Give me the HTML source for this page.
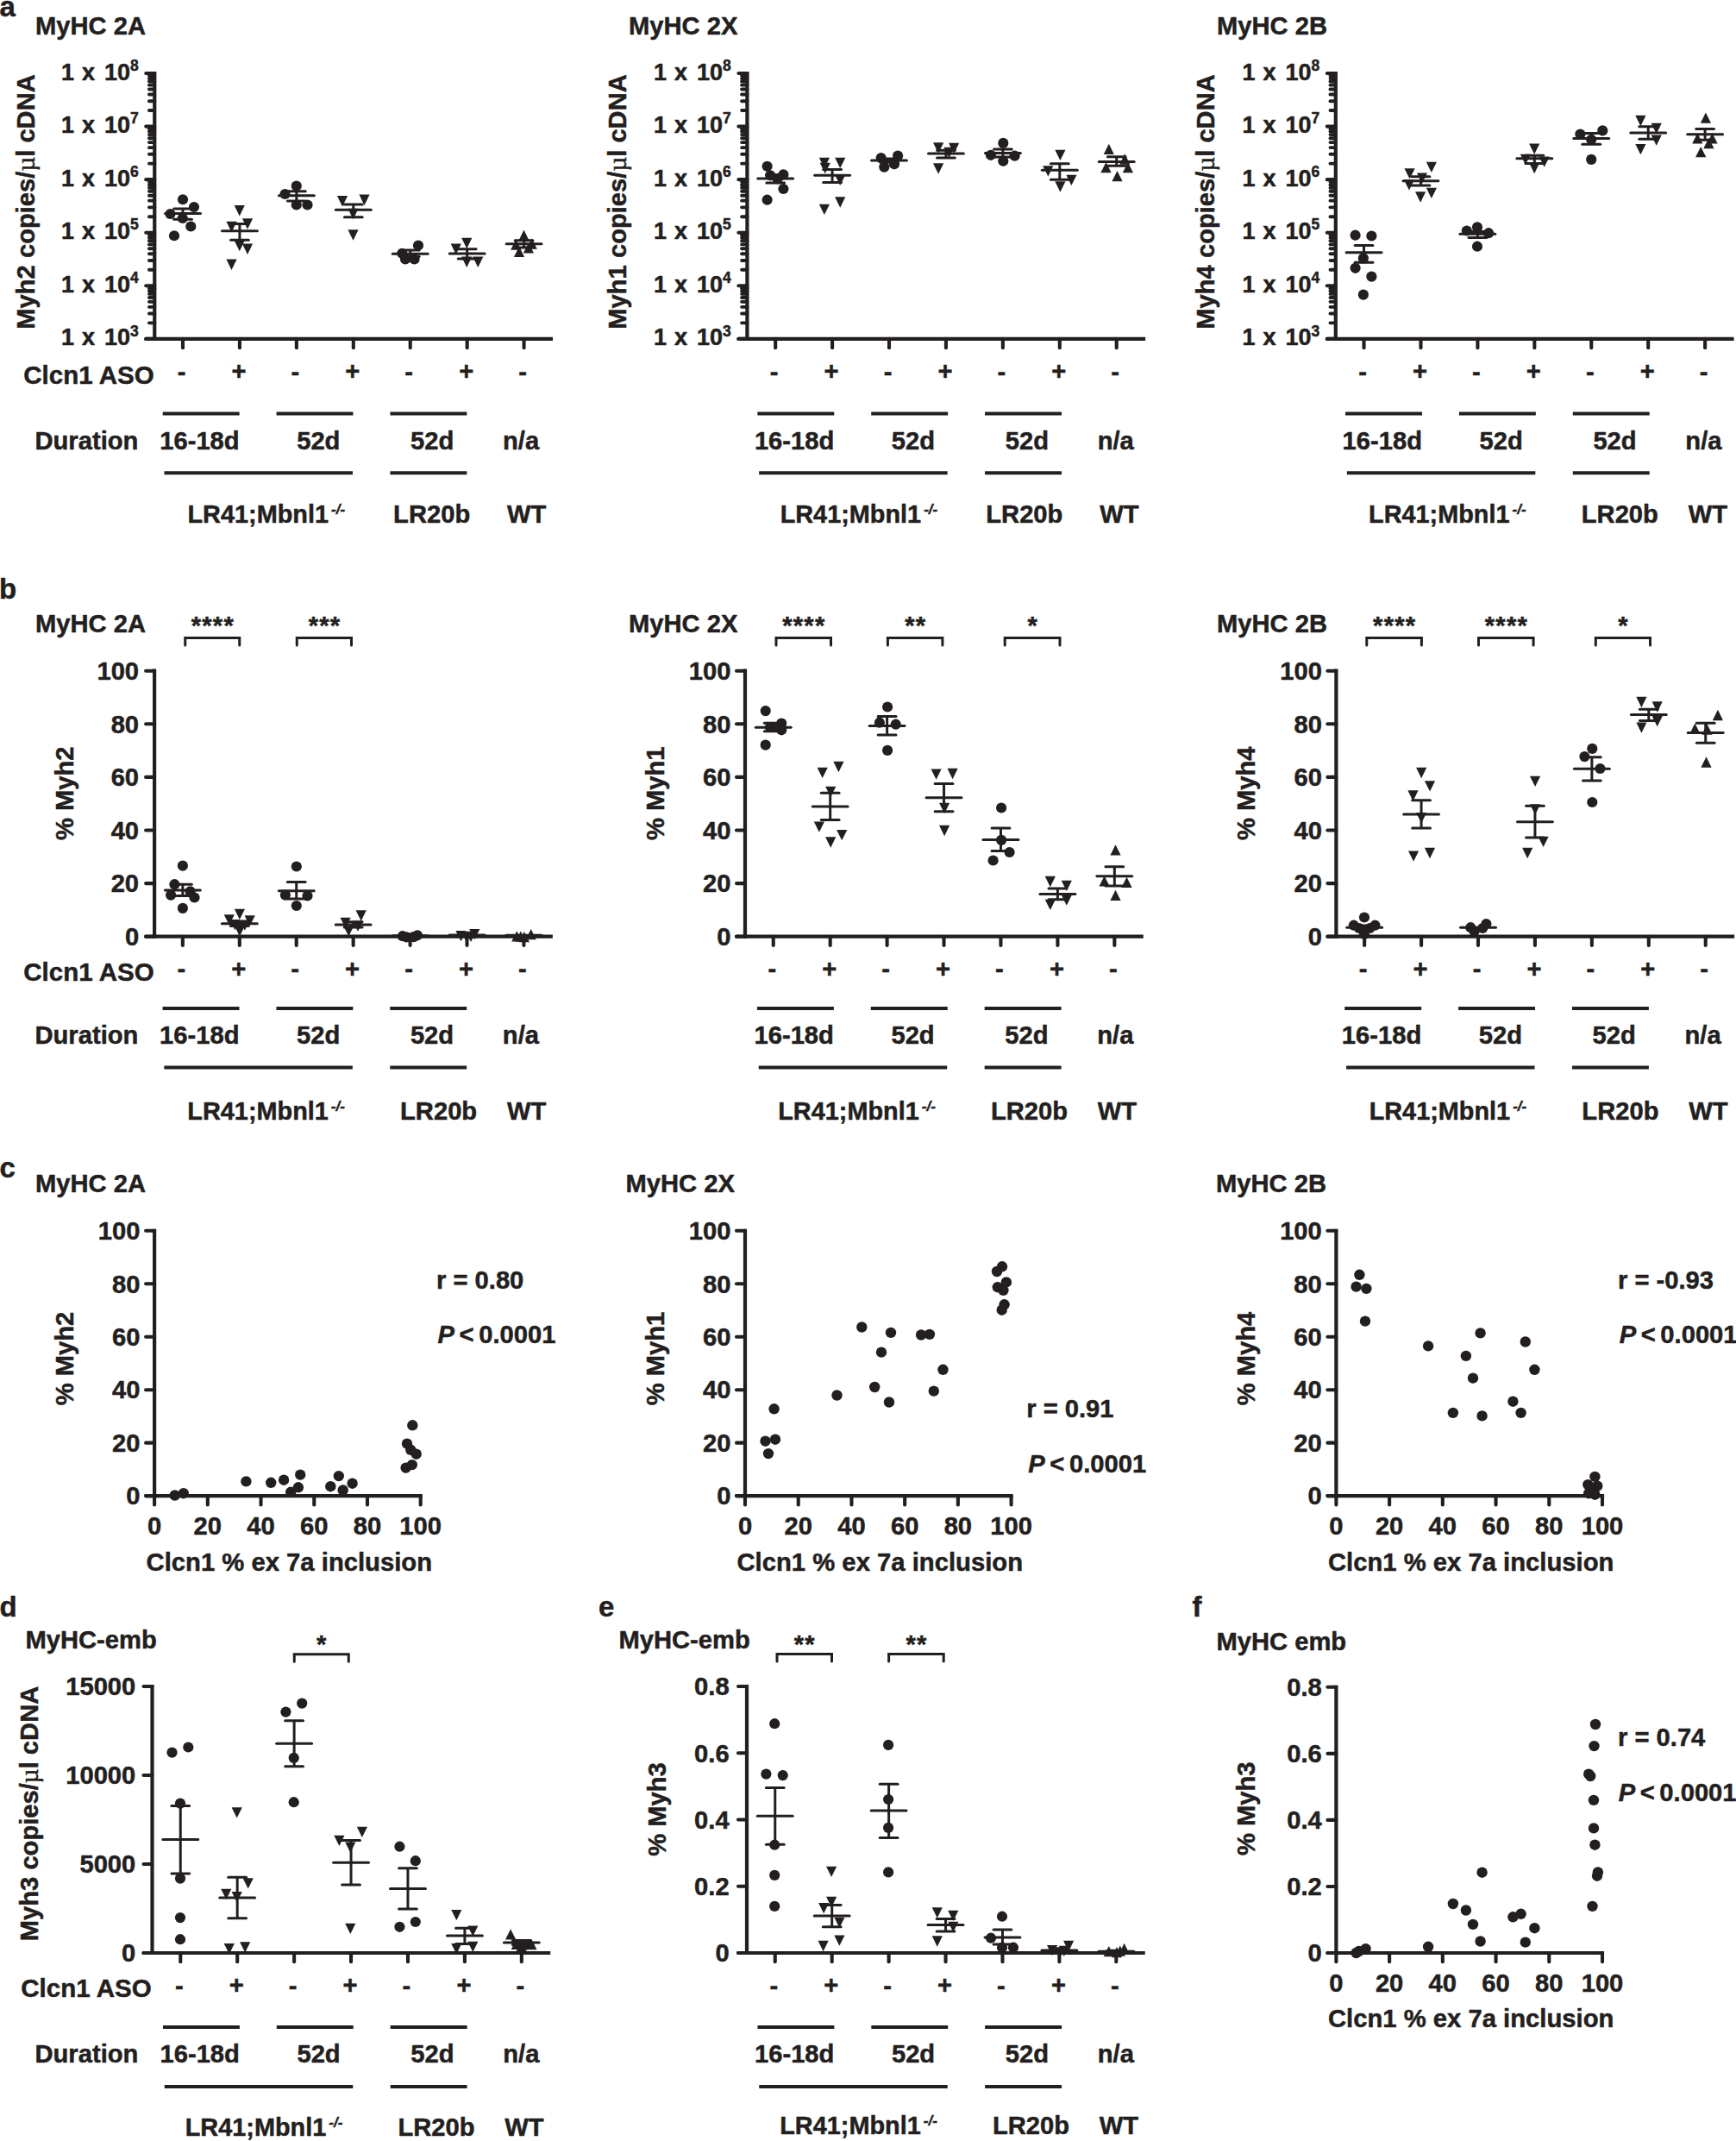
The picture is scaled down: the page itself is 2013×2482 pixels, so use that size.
<!DOCTYPE html>
<html><head><meta charset="utf-8"><title>Figure</title>
<style>
html,body{margin:0;padding:0;background:#fff}
svg{display:block}
text{font-family:"Liberation Sans",sans-serif;font-weight:bold;fill:#231f20;stroke:#231f20;stroke-width:0.5px;stroke-linejoin:round}
line,path{stroke:#231f20}
circle,.f{fill:#231f20;stroke:none}
</style></head><body>
<svg width="2013" height="2482" viewBox="0 0 2013 2482">
<text x="-0.5" y="18.6" font-size="33">a</text>
<text x="41" y="40" font-size="29.17">MyHC 2A</text>
<line x1="179.25" y1="82.9" x2="179.25" y2="395.0" stroke-width="4.2"/>
<line x1="169.25" y1="392.9" x2="179.25" y2="392.9" stroke-width="4.2" stroke-linecap="round"/>
<line x1="177.25" y1="392.9" x2="641.0" y2="392.9" stroke-width="4.2"/>
<line x1="212.0" y1="392.9" x2="212.0" y2="403.2" stroke-width="4.1" stroke-linecap="round"/>
<line x1="277.93" y1="392.9" x2="277.93" y2="403.2" stroke-width="4.1" stroke-linecap="round"/>
<line x1="343.86" y1="392.9" x2="343.86" y2="403.2" stroke-width="4.1" stroke-linecap="round"/>
<line x1="409.79" y1="392.9" x2="409.79" y2="403.2" stroke-width="4.1" stroke-linecap="round"/>
<line x1="475.72" y1="392.9" x2="475.72" y2="403.2" stroke-width="4.1" stroke-linecap="round"/>
<line x1="541.6500000000001" y1="392.9" x2="541.6500000000001" y2="403.2" stroke-width="4.1" stroke-linecap="round"/>
<line x1="607.58" y1="392.9" x2="607.58" y2="403.2" stroke-width="4.1" stroke-linecap="round"/>
<line x1="169.25" y1="85.0" x2="179.25" y2="85.0" stroke-width="4.1" stroke-linecap="round"/>
<line x1="172.95" y1="128.04257286701204" x2="179.25" y2="128.04257286701204" stroke-width="3.9" stroke-linecap="round"/>
<line x1="172.95" y1="117.1988731343632" x2="179.25" y2="117.1988731343632" stroke-width="3.9" stroke-linecap="round"/>
<line x1="172.95" y1="109.50514573402407" x2="179.25" y2="109.50514573402407" stroke-width="3.9" stroke-linecap="round"/>
<line x1="172.95" y1="103.53742713298796" x2="179.25" y2="103.53742713298796" stroke-width="3.9" stroke-linecap="round"/>
<line x1="172.95" y1="98.66144600137523" x2="179.25" y2="98.66144600137523" stroke-width="3.9" stroke-linecap="round"/>
<line x1="172.95" y1="94.53886269592206" x2="179.25" y2="94.53886269592206" stroke-width="3.9" stroke-linecap="round"/>
<line x1="172.95" y1="90.96771860103611" x2="179.25" y2="90.96771860103611" stroke-width="3.9" stroke-linecap="round"/>
<line x1="172.95" y1="87.81774626872638" x2="179.25" y2="87.81774626872638" stroke-width="3.9" stroke-linecap="round"/>
<text x="70.95" y="92.5" font-size="27">1</text>
<text x="94.95" y="92.5" font-size="27">x</text>
<text x="120.95" y="92.5" font-size="27">10</text>
<text x="150.95" y="81.7" font-size="17.5">8</text>
<line x1="169.25" y1="146.57999999999998" x2="179.25" y2="146.57999999999998" stroke-width="4.1" stroke-linecap="round"/>
<line x1="172.95" y1="189.62257286701202" x2="179.25" y2="189.62257286701202" stroke-width="3.9" stroke-linecap="round"/>
<line x1="172.95" y1="178.77887313436318" x2="179.25" y2="178.77887313436318" stroke-width="3.9" stroke-linecap="round"/>
<line x1="172.95" y1="171.08514573402405" x2="179.25" y2="171.08514573402405" stroke-width="3.9" stroke-linecap="round"/>
<line x1="172.95" y1="165.11742713298793" x2="179.25" y2="165.11742713298793" stroke-width="3.9" stroke-linecap="round"/>
<line x1="172.95" y1="160.2414460013752" x2="179.25" y2="160.2414460013752" stroke-width="3.9" stroke-linecap="round"/>
<line x1="172.95" y1="156.11886269592205" x2="179.25" y2="156.11886269592205" stroke-width="3.9" stroke-linecap="round"/>
<line x1="172.95" y1="152.5477186010361" x2="179.25" y2="152.5477186010361" stroke-width="3.9" stroke-linecap="round"/>
<line x1="172.95" y1="149.39774626872637" x2="179.25" y2="149.39774626872637" stroke-width="3.9" stroke-linecap="round"/>
<text x="70.95" y="154.07999999999998" font-size="27">1</text>
<text x="94.95" y="154.07999999999998" font-size="27">x</text>
<text x="120.95" y="154.07999999999998" font-size="27">10</text>
<text x="150.95" y="143.27999999999997" font-size="17.5">7</text>
<line x1="169.25" y1="208.16" x2="179.25" y2="208.16" stroke-width="4.1" stroke-linecap="round"/>
<line x1="172.95" y1="251.20257286701204" x2="179.25" y2="251.20257286701204" stroke-width="3.9" stroke-linecap="round"/>
<line x1="172.95" y1="240.3588731343632" x2="179.25" y2="240.3588731343632" stroke-width="3.9" stroke-linecap="round"/>
<line x1="172.95" y1="232.66514573402407" x2="179.25" y2="232.66514573402407" stroke-width="3.9" stroke-linecap="round"/>
<line x1="172.95" y1="226.69742713298797" x2="179.25" y2="226.69742713298797" stroke-width="3.9" stroke-linecap="round"/>
<line x1="172.95" y1="221.82144600137522" x2="179.25" y2="221.82144600137522" stroke-width="3.9" stroke-linecap="round"/>
<line x1="172.95" y1="217.69886269592206" x2="179.25" y2="217.69886269592206" stroke-width="3.9" stroke-linecap="round"/>
<line x1="172.95" y1="214.12771860103612" x2="179.25" y2="214.12771860103612" stroke-width="3.9" stroke-linecap="round"/>
<line x1="172.95" y1="210.97774626872638" x2="179.25" y2="210.97774626872638" stroke-width="3.9" stroke-linecap="round"/>
<text x="70.95" y="215.66" font-size="27">1</text>
<text x="94.95" y="215.66" font-size="27">x</text>
<text x="120.95" y="215.66" font-size="27">10</text>
<text x="150.95" y="204.85999999999999" font-size="17.5">6</text>
<line x1="169.25" y1="269.74" x2="179.25" y2="269.74" stroke-width="4.1" stroke-linecap="round"/>
<line x1="172.95" y1="312.78257286701205" x2="179.25" y2="312.78257286701205" stroke-width="3.9" stroke-linecap="round"/>
<line x1="172.95" y1="301.9388731343632" x2="179.25" y2="301.9388731343632" stroke-width="3.9" stroke-linecap="round"/>
<line x1="172.95" y1="294.2451457340241" x2="179.25" y2="294.2451457340241" stroke-width="3.9" stroke-linecap="round"/>
<line x1="172.95" y1="288.27742713298795" x2="179.25" y2="288.27742713298795" stroke-width="3.9" stroke-linecap="round"/>
<line x1="172.95" y1="283.40144600137523" x2="179.25" y2="283.40144600137523" stroke-width="3.9" stroke-linecap="round"/>
<line x1="172.95" y1="279.2788626959221" x2="179.25" y2="279.2788626959221" stroke-width="3.9" stroke-linecap="round"/>
<line x1="172.95" y1="275.7077186010361" x2="179.25" y2="275.7077186010361" stroke-width="3.9" stroke-linecap="round"/>
<line x1="172.95" y1="272.55774626872636" x2="179.25" y2="272.55774626872636" stroke-width="3.9" stroke-linecap="round"/>
<text x="70.95" y="277.24" font-size="27">1</text>
<text x="94.95" y="277.24" font-size="27">x</text>
<text x="120.95" y="277.24" font-size="27">10</text>
<text x="150.95" y="266.44" font-size="17.5">5</text>
<line x1="169.25" y1="331.32" x2="179.25" y2="331.32" stroke-width="4.1" stroke-linecap="round"/>
<line x1="172.95" y1="374.36257286701203" x2="179.25" y2="374.36257286701203" stroke-width="3.9" stroke-linecap="round"/>
<line x1="172.95" y1="363.51887313436316" x2="179.25" y2="363.51887313436316" stroke-width="3.9" stroke-linecap="round"/>
<line x1="172.95" y1="355.8251457340241" x2="179.25" y2="355.8251457340241" stroke-width="3.9" stroke-linecap="round"/>
<line x1="172.95" y1="349.85742713298794" x2="179.25" y2="349.85742713298794" stroke-width="3.9" stroke-linecap="round"/>
<line x1="172.95" y1="344.9814460013752" x2="179.25" y2="344.9814460013752" stroke-width="3.9" stroke-linecap="round"/>
<line x1="172.95" y1="340.8588626959221" x2="179.25" y2="340.8588626959221" stroke-width="3.9" stroke-linecap="round"/>
<line x1="172.95" y1="337.2877186010361" x2="179.25" y2="337.2877186010361" stroke-width="3.9" stroke-linecap="round"/>
<line x1="172.95" y1="334.13774626872635" x2="179.25" y2="334.13774626872635" stroke-width="3.9" stroke-linecap="round"/>
<text x="70.95" y="338.82" font-size="27">1</text>
<text x="94.95" y="338.82" font-size="27">x</text>
<text x="120.95" y="338.82" font-size="27">10</text>
<text x="150.95" y="328.02" font-size="17.5">4</text>
<line x1="169.25" y1="392.9" x2="179.25" y2="392.9" stroke-width="4.1" stroke-linecap="round"/>
<text x="70.95" y="400.4" font-size="27">1</text>
<text x="94.95" y="400.4" font-size="27">x</text>
<text x="120.95" y="400.4" font-size="27">10</text>
<text x="150.95" y="389.59999999999997" font-size="17.5">3</text>
<text transform="translate(39.75 233.95) rotate(-90)" font-size="29.17" text-anchor="middle">Myh2 copies/<tspan font-weight="normal" font-family="Liberation Serif,serif">µ</tspan>l cDNA</text>
<text x="210.5" y="440.7" font-size="29.17" text-anchor="middle">-</text>
<text x="276.93" y="440.4" font-size="29.17" text-anchor="middle">+</text>
<text x="342.36" y="440.7" font-size="29.17" text-anchor="middle">-</text>
<text x="408.79" y="440.4" font-size="29.17" text-anchor="middle">+</text>
<text x="474.22" y="440.7" font-size="29.17" text-anchor="middle">-</text>
<text x="540.6500000000001" y="440.4" font-size="29.17" text-anchor="middle">+</text>
<text x="606.08" y="440.7" font-size="29.17" text-anchor="middle">-</text>
<line x1="188.7" y1="479.5" x2="277.63" y2="479.5" stroke-width="3.8"/>
<line x1="320.56" y1="479.5" x2="409.49" y2="479.5" stroke-width="3.8"/>
<line x1="452.42" y1="479.5" x2="541.3500000000001" y2="479.5" stroke-width="3.8"/>
<text x="231.465" y="520.75" font-size="29.17" text-anchor="middle">16-18d</text>
<text x="369.32500000000005" y="520.75" font-size="29.17" text-anchor="middle">52d</text>
<text x="501.18500000000006" y="520.75" font-size="29.17" text-anchor="middle">52d</text>
<text x="604.08" y="520.75" font-size="29.17" text-anchor="middle">n/a</text>
<line x1="190.5" y1="548.25" x2="408.99" y2="548.25" stroke-width="3.8"/>
<line x1="452.42" y1="548.25" x2="541.3500000000001" y2="548.25" stroke-width="3.8"/>
<text x="217.5" y="605.65" font-size="29.17" textLength="163.5" lengthAdjust="spacingAndGlyphs">LR41;Mbnl1</text>
<text x="384.0" y="595.65" font-size="17" font-style="italic">-/-</text>
<text x="456.12" y="605.65" font-size="29.17">LR20b</text>
<text x="588.08" y="605.65" font-size="29.17">WT</text>
<text x="27.2" y="444.95" font-size="29.17" textLength="151.5" lengthAdjust="spacingAndGlyphs">Clcn1 ASO</text>
<text x="40.5" y="520.75" font-size="29.17">Duration</text>
<circle cx="212" cy="231.25" r="6.1"/>
<circle cx="225" cy="240" r="6.1"/>
<circle cx="197.5" cy="248" r="6.1"/>
<circle cx="211.75" cy="253" r="6.1"/>
<circle cx="221.25" cy="262.5" r="6.1"/>
<circle cx="202" cy="273.25" r="6.1"/>
<path class="f" d="M271.65 238.10h12.2L277.75 250.40z"/>
<path class="f" d="M280.90 253.35h12.2L287.00 265.65z"/>
<path class="f" d="M262.40 256.85h12.2L268.50 269.15z"/>
<path class="f" d="M271.65 278.85h12.2L277.75 291.15z"/>
<path class="f" d="M280.90 282.60h12.2L287.00 294.90z"/>
<path class="f" d="M262.40 300.60h12.2L268.50 312.90z"/>
<circle cx="343.75" cy="215.5" r="6.1"/>
<circle cx="330.5" cy="225" r="6.1"/>
<circle cx="343.75" cy="237.5" r="6.1"/>
<circle cx="356.5" cy="237.5" r="6.1"/>
<path class="f" d="M390.90 227.10h12.2L397.00 239.40z"/>
<path class="f" d="M416.40 225.60h12.2L422.50 237.90z"/>
<path class="f" d="M403.40 241.85h12.2L409.50 254.15z"/>
<path class="f" d="M403.40 266.35h12.2L409.50 278.65z"/>
<circle cx="485" cy="284.5" r="6.1"/>
<circle cx="466.25" cy="293.75" r="6.1"/>
<circle cx="470" cy="300.5" r="6.1"/>
<circle cx="480.5" cy="300.5" r="6.1"/>
<path class="f" d="M535.15 275.85h12.2L541.25 288.15z"/>
<path class="f" d="M522.65 282.60h12.2L528.75 294.90z"/>
<path class="f" d="M535.15 297.60h12.2L541.25 309.90z"/>
<path class="f" d="M548.15 297.60h12.2L554.25 309.90z"/>
<path class="f" d="M601.40 278.90h12.2L607.50 266.60z"/>
<path class="f" d="M592.20 289.85h12.2L598.30 277.55z"/>
<path class="f" d="M610.60 288.65h12.2L616.70 276.35z"/>
<path class="f" d="M595.90 297.95h12.2L602.00 285.65z"/>
<path class="f" d="M606.80 293.55h12.2L612.90 281.25z"/>
<line x1="191.55" y1="247.5" x2="232.45" y2="247.5" stroke-width="3" stroke-linecap="round"/>
<line x1="201.6" y1="242" x2="222.4" y2="242" stroke-width="3" stroke-linecap="round"/>
<line x1="201.6" y1="254.25" x2="222.4" y2="254.25" stroke-width="3" stroke-linecap="round"/>
<line x1="212.0" y1="242" x2="212.0" y2="254.25" stroke-width="3"/>
<line x1="257.48" y1="267.75" x2="298.38" y2="267.75" stroke-width="3" stroke-linecap="round"/>
<line x1="267.53000000000003" y1="259.5" x2="288.33" y2="259.5" stroke-width="3" stroke-linecap="round"/>
<line x1="267.53000000000003" y1="278.25" x2="288.33" y2="278.25" stroke-width="3" stroke-linecap="round"/>
<line x1="277.93" y1="259.5" x2="277.93" y2="278.25" stroke-width="3"/>
<line x1="323.41" y1="226.75" x2="364.31" y2="226.75" stroke-width="3" stroke-linecap="round"/>
<line x1="333.46000000000004" y1="221.75" x2="354.26" y2="221.75" stroke-width="3" stroke-linecap="round"/>
<line x1="333.46000000000004" y1="233" x2="354.26" y2="233" stroke-width="3" stroke-linecap="round"/>
<line x1="343.86" y1="221.75" x2="343.86" y2="233" stroke-width="3"/>
<line x1="389.34000000000003" y1="243.25" x2="430.24" y2="243.25" stroke-width="3" stroke-linecap="round"/>
<line x1="399.39000000000004" y1="237" x2="420.19" y2="237" stroke-width="3" stroke-linecap="round"/>
<line x1="399.39000000000004" y1="251.75" x2="420.19" y2="251.75" stroke-width="3" stroke-linecap="round"/>
<line x1="409.79" y1="237" x2="409.79" y2="251.75" stroke-width="3"/>
<line x1="455.27000000000004" y1="294.25" x2="496.17" y2="294.25" stroke-width="3" stroke-linecap="round"/>
<line x1="465.32000000000005" y1="290" x2="486.12" y2="290" stroke-width="3" stroke-linecap="round"/>
<line x1="465.32000000000005" y1="297.5" x2="486.12" y2="297.5" stroke-width="3" stroke-linecap="round"/>
<line x1="475.72" y1="290" x2="475.72" y2="297.5" stroke-width="3"/>
<line x1="521.2" y1="294" x2="562.1000000000001" y2="294" stroke-width="3" stroke-linecap="round"/>
<line x1="531.2500000000001" y1="288.75" x2="552.0500000000001" y2="288.75" stroke-width="3" stroke-linecap="round"/>
<line x1="531.2500000000001" y1="300" x2="552.0500000000001" y2="300" stroke-width="3" stroke-linecap="round"/>
<line x1="541.6500000000001" y1="288.75" x2="541.6500000000001" y2="300" stroke-width="3"/>
<line x1="587.13" y1="282.7" x2="628.0300000000001" y2="282.7" stroke-width="3" stroke-linecap="round"/>
<line x1="597.1800000000001" y1="278.7" x2="617.98" y2="278.7" stroke-width="3" stroke-linecap="round"/>
<line x1="597.1800000000001" y1="286.9" x2="617.98" y2="286.9" stroke-width="3" stroke-linecap="round"/>
<line x1="607.58" y1="278.7" x2="607.58" y2="286.9" stroke-width="3"/>
<text x="729" y="40" font-size="29.17">MyHC 2X</text>
<line x1="866.4" y1="82.9" x2="866.4" y2="395.0" stroke-width="4.2"/>
<line x1="856.4" y1="392.9" x2="866.4" y2="392.9" stroke-width="4.2" stroke-linecap="round"/>
<line x1="864.4" y1="392.9" x2="1328.15" y2="392.9" stroke-width="4.2"/>
<line x1="899.15" y1="392.9" x2="899.15" y2="403.2" stroke-width="4.1" stroke-linecap="round"/>
<line x1="965.0799999999999" y1="392.9" x2="965.0799999999999" y2="403.2" stroke-width="4.1" stroke-linecap="round"/>
<line x1="1031.01" y1="392.9" x2="1031.01" y2="403.2" stroke-width="4.1" stroke-linecap="round"/>
<line x1="1096.94" y1="392.9" x2="1096.94" y2="403.2" stroke-width="4.1" stroke-linecap="round"/>
<line x1="1162.87" y1="392.9" x2="1162.87" y2="403.2" stroke-width="4.1" stroke-linecap="round"/>
<line x1="1228.8" y1="392.9" x2="1228.8" y2="403.2" stroke-width="4.1" stroke-linecap="round"/>
<line x1="1294.73" y1="392.9" x2="1294.73" y2="403.2" stroke-width="4.1" stroke-linecap="round"/>
<line x1="856.4" y1="85.0" x2="866.4" y2="85.0" stroke-width="4.1" stroke-linecap="round"/>
<line x1="860.1" y1="128.04257286701204" x2="866.4" y2="128.04257286701204" stroke-width="3.9" stroke-linecap="round"/>
<line x1="860.1" y1="117.1988731343632" x2="866.4" y2="117.1988731343632" stroke-width="3.9" stroke-linecap="round"/>
<line x1="860.1" y1="109.50514573402407" x2="866.4" y2="109.50514573402407" stroke-width="3.9" stroke-linecap="round"/>
<line x1="860.1" y1="103.53742713298796" x2="866.4" y2="103.53742713298796" stroke-width="3.9" stroke-linecap="round"/>
<line x1="860.1" y1="98.66144600137523" x2="866.4" y2="98.66144600137523" stroke-width="3.9" stroke-linecap="round"/>
<line x1="860.1" y1="94.53886269592206" x2="866.4" y2="94.53886269592206" stroke-width="3.9" stroke-linecap="round"/>
<line x1="860.1" y1="90.96771860103611" x2="866.4" y2="90.96771860103611" stroke-width="3.9" stroke-linecap="round"/>
<line x1="860.1" y1="87.81774626872638" x2="866.4" y2="87.81774626872638" stroke-width="3.9" stroke-linecap="round"/>
<text x="758.1" y="92.5" font-size="27">1</text>
<text x="782.1" y="92.5" font-size="27">x</text>
<text x="808.1" y="92.5" font-size="27">10</text>
<text x="838.1" y="81.7" font-size="17.5">8</text>
<line x1="856.4" y1="146.57999999999998" x2="866.4" y2="146.57999999999998" stroke-width="4.1" stroke-linecap="round"/>
<line x1="860.1" y1="189.62257286701202" x2="866.4" y2="189.62257286701202" stroke-width="3.9" stroke-linecap="round"/>
<line x1="860.1" y1="178.77887313436318" x2="866.4" y2="178.77887313436318" stroke-width="3.9" stroke-linecap="round"/>
<line x1="860.1" y1="171.08514573402405" x2="866.4" y2="171.08514573402405" stroke-width="3.9" stroke-linecap="round"/>
<line x1="860.1" y1="165.11742713298793" x2="866.4" y2="165.11742713298793" stroke-width="3.9" stroke-linecap="round"/>
<line x1="860.1" y1="160.2414460013752" x2="866.4" y2="160.2414460013752" stroke-width="3.9" stroke-linecap="round"/>
<line x1="860.1" y1="156.11886269592205" x2="866.4" y2="156.11886269592205" stroke-width="3.9" stroke-linecap="round"/>
<line x1="860.1" y1="152.5477186010361" x2="866.4" y2="152.5477186010361" stroke-width="3.9" stroke-linecap="round"/>
<line x1="860.1" y1="149.39774626872637" x2="866.4" y2="149.39774626872637" stroke-width="3.9" stroke-linecap="round"/>
<text x="758.1" y="154.07999999999998" font-size="27">1</text>
<text x="782.1" y="154.07999999999998" font-size="27">x</text>
<text x="808.1" y="154.07999999999998" font-size="27">10</text>
<text x="838.1" y="143.27999999999997" font-size="17.5">7</text>
<line x1="856.4" y1="208.16" x2="866.4" y2="208.16" stroke-width="4.1" stroke-linecap="round"/>
<line x1="860.1" y1="251.20257286701204" x2="866.4" y2="251.20257286701204" stroke-width="3.9" stroke-linecap="round"/>
<line x1="860.1" y1="240.3588731343632" x2="866.4" y2="240.3588731343632" stroke-width="3.9" stroke-linecap="round"/>
<line x1="860.1" y1="232.66514573402407" x2="866.4" y2="232.66514573402407" stroke-width="3.9" stroke-linecap="round"/>
<line x1="860.1" y1="226.69742713298797" x2="866.4" y2="226.69742713298797" stroke-width="3.9" stroke-linecap="round"/>
<line x1="860.1" y1="221.82144600137522" x2="866.4" y2="221.82144600137522" stroke-width="3.9" stroke-linecap="round"/>
<line x1="860.1" y1="217.69886269592206" x2="866.4" y2="217.69886269592206" stroke-width="3.9" stroke-linecap="round"/>
<line x1="860.1" y1="214.12771860103612" x2="866.4" y2="214.12771860103612" stroke-width="3.9" stroke-linecap="round"/>
<line x1="860.1" y1="210.97774626872638" x2="866.4" y2="210.97774626872638" stroke-width="3.9" stroke-linecap="round"/>
<text x="758.1" y="215.66" font-size="27">1</text>
<text x="782.1" y="215.66" font-size="27">x</text>
<text x="808.1" y="215.66" font-size="27">10</text>
<text x="838.1" y="204.85999999999999" font-size="17.5">6</text>
<line x1="856.4" y1="269.74" x2="866.4" y2="269.74" stroke-width="4.1" stroke-linecap="round"/>
<line x1="860.1" y1="312.78257286701205" x2="866.4" y2="312.78257286701205" stroke-width="3.9" stroke-linecap="round"/>
<line x1="860.1" y1="301.9388731343632" x2="866.4" y2="301.9388731343632" stroke-width="3.9" stroke-linecap="round"/>
<line x1="860.1" y1="294.2451457340241" x2="866.4" y2="294.2451457340241" stroke-width="3.9" stroke-linecap="round"/>
<line x1="860.1" y1="288.27742713298795" x2="866.4" y2="288.27742713298795" stroke-width="3.9" stroke-linecap="round"/>
<line x1="860.1" y1="283.40144600137523" x2="866.4" y2="283.40144600137523" stroke-width="3.9" stroke-linecap="round"/>
<line x1="860.1" y1="279.2788626959221" x2="866.4" y2="279.2788626959221" stroke-width="3.9" stroke-linecap="round"/>
<line x1="860.1" y1="275.7077186010361" x2="866.4" y2="275.7077186010361" stroke-width="3.9" stroke-linecap="round"/>
<line x1="860.1" y1="272.55774626872636" x2="866.4" y2="272.55774626872636" stroke-width="3.9" stroke-linecap="round"/>
<text x="758.1" y="277.24" font-size="27">1</text>
<text x="782.1" y="277.24" font-size="27">x</text>
<text x="808.1" y="277.24" font-size="27">10</text>
<text x="838.1" y="266.44" font-size="17.5">5</text>
<line x1="856.4" y1="331.32" x2="866.4" y2="331.32" stroke-width="4.1" stroke-linecap="round"/>
<line x1="860.1" y1="374.36257286701203" x2="866.4" y2="374.36257286701203" stroke-width="3.9" stroke-linecap="round"/>
<line x1="860.1" y1="363.51887313436316" x2="866.4" y2="363.51887313436316" stroke-width="3.9" stroke-linecap="round"/>
<line x1="860.1" y1="355.8251457340241" x2="866.4" y2="355.8251457340241" stroke-width="3.9" stroke-linecap="round"/>
<line x1="860.1" y1="349.85742713298794" x2="866.4" y2="349.85742713298794" stroke-width="3.9" stroke-linecap="round"/>
<line x1="860.1" y1="344.9814460013752" x2="866.4" y2="344.9814460013752" stroke-width="3.9" stroke-linecap="round"/>
<line x1="860.1" y1="340.8588626959221" x2="866.4" y2="340.8588626959221" stroke-width="3.9" stroke-linecap="round"/>
<line x1="860.1" y1="337.2877186010361" x2="866.4" y2="337.2877186010361" stroke-width="3.9" stroke-linecap="round"/>
<line x1="860.1" y1="334.13774626872635" x2="866.4" y2="334.13774626872635" stroke-width="3.9" stroke-linecap="round"/>
<text x="758.1" y="338.82" font-size="27">1</text>
<text x="782.1" y="338.82" font-size="27">x</text>
<text x="808.1" y="338.82" font-size="27">10</text>
<text x="838.1" y="328.02" font-size="17.5">4</text>
<line x1="856.4" y1="392.9" x2="866.4" y2="392.9" stroke-width="4.1" stroke-linecap="round"/>
<text x="758.1" y="400.4" font-size="27">1</text>
<text x="782.1" y="400.4" font-size="27">x</text>
<text x="808.1" y="400.4" font-size="27">10</text>
<text x="838.1" y="389.59999999999997" font-size="17.5">3</text>
<text transform="translate(725.9 233.95) rotate(-90)" font-size="29.17" text-anchor="middle">Myh1 copies/<tspan font-weight="normal" font-family="Liberation Serif,serif">µ</tspan>l cDNA</text>
<text x="897.65" y="440.7" font-size="29.17" text-anchor="middle">-</text>
<text x="964.0799999999999" y="440.4" font-size="29.17" text-anchor="middle">+</text>
<text x="1029.51" y="440.7" font-size="29.17" text-anchor="middle">-</text>
<text x="1095.94" y="440.4" font-size="29.17" text-anchor="middle">+</text>
<text x="1161.37" y="440.7" font-size="29.17" text-anchor="middle">-</text>
<text x="1227.8" y="440.4" font-size="29.17" text-anchor="middle">+</text>
<text x="1293.23" y="440.7" font-size="29.17" text-anchor="middle">-</text>
<line x1="878.35" y1="479.5" x2="967.28" y2="479.5" stroke-width="3.8"/>
<line x1="1010.21" y1="479.5" x2="1099.14" y2="479.5" stroke-width="3.8"/>
<line x1="1142.07" y1="479.5" x2="1231.0" y2="479.5" stroke-width="3.8"/>
<text x="921.115" y="520.75" font-size="29.17" text-anchor="middle">16-18d</text>
<text x="1058.975" y="520.75" font-size="29.17" text-anchor="middle">52d</text>
<text x="1190.835" y="520.75" font-size="29.17" text-anchor="middle">52d</text>
<text x="1293.73" y="520.75" font-size="29.17" text-anchor="middle">n/a</text>
<line x1="880.15" y1="548.25" x2="1098.64" y2="548.25" stroke-width="3.8"/>
<line x1="1142.07" y1="548.25" x2="1231.0" y2="548.25" stroke-width="3.8"/>
<text x="904.65" y="605.65" font-size="29.17" textLength="163.5" lengthAdjust="spacingAndGlyphs">LR41;Mbnl1</text>
<text x="1071.15" y="595.65" font-size="17" font-style="italic">-/-</text>
<text x="1143.27" y="605.65" font-size="29.17">LR20b</text>
<text x="1275.23" y="605.65" font-size="29.17">WT</text>
<circle cx="889.6" cy="192.8" r="6.1"/>
<circle cx="893.2" cy="203.3" r="6.1"/>
<circle cx="908.4" cy="202.4" r="6.1"/>
<circle cx="901.5" cy="207.4" r="6.1"/>
<circle cx="908.4" cy="219" r="6.1"/>
<circle cx="889.6" cy="231.7" r="6.1"/>
<path class="f" d="M949.80 182.75h12.2L955.90 195.05z"/>
<path class="f" d="M968.10 182.75h12.2L974.20 195.05z"/>
<path class="f" d="M950.70 188.85h12.2L956.80 201.15z"/>
<path class="f" d="M968.10 202.65h12.2L974.20 214.95z"/>
<path class="f" d="M968.10 228.35h12.2L974.20 240.65z"/>
<path class="f" d="M949.80 236.65h12.2L955.90 248.95z"/>
<circle cx="1021.7" cy="183.1" r="6.1"/>
<circle cx="1041.1" cy="180.6" r="6.1"/>
<circle cx="1025.3" cy="193.6" r="6.1"/>
<circle cx="1037" cy="190.3" r="6.1"/>
<path class="f" d="M1082.00 165.35h12.2L1088.10 177.65z"/>
<path class="f" d="M1100.00 165.85h12.2L1106.10 178.15z"/>
<path class="f" d="M1082.00 189.35h12.2L1088.10 201.65z"/>
<path class="f" d="M1094.40 170.85h12.2L1100.50 183.15z"/>
<circle cx="1163.3" cy="165.9" r="6.1"/>
<circle cx="1148.9" cy="179.8" r="6.1"/>
<circle cx="1176.6" cy="180.6" r="6.1"/>
<circle cx="1163.3" cy="186.7" r="6.1"/>
<path class="f" d="M1223.30 173.65h12.2L1229.40 185.95z"/>
<path class="f" d="M1209.20 192.15h12.2L1215.30 204.45z"/>
<path class="f" d="M1236.30 202.65h12.2L1242.40 214.95z"/>
<path class="f" d="M1223.30 210.35h12.2L1229.40 222.65z"/>
<path class="f" d="M1279.70 179.05h12.2L1285.80 166.75z"/>
<path class="f" d="M1298.20 190.65h12.2L1304.30 178.35z"/>
<path class="f" d="M1276.40 200.25h12.2L1282.50 187.95z"/>
<path class="f" d="M1301.80 200.25h12.2L1307.90 187.95z"/>
<path class="f" d="M1289.40 210.25h12.2L1295.50 197.95z"/>
<line x1="878.6999999999999" y1="206.9" x2="919.6" y2="206.9" stroke-width="3" stroke-linecap="round"/>
<line x1="888.75" y1="202.4" x2="909.55" y2="202.4" stroke-width="3" stroke-linecap="round"/>
<line x1="888.75" y1="212.1" x2="909.55" y2="212.1" stroke-width="3" stroke-linecap="round"/>
<line x1="899.15" y1="202.4" x2="899.15" y2="212.1" stroke-width="3"/>
<line x1="944.6299999999999" y1="203.3" x2="985.53" y2="203.3" stroke-width="3" stroke-linecap="round"/>
<line x1="954.68" y1="196.4" x2="975.4799999999999" y2="196.4" stroke-width="3" stroke-linecap="round"/>
<line x1="954.68" y1="211.6" x2="975.4799999999999" y2="211.6" stroke-width="3" stroke-linecap="round"/>
<line x1="965.0799999999999" y1="196.4" x2="965.0799999999999" y2="211.6" stroke-width="3"/>
<line x1="1010.56" y1="186.1" x2="1051.46" y2="186.1" stroke-width="3" stroke-linecap="round"/>
<line x1="1020.61" y1="183.9" x2="1041.41" y2="183.9" stroke-width="3" stroke-linecap="round"/>
<line x1="1020.61" y1="188" x2="1041.41" y2="188" stroke-width="3" stroke-linecap="round"/>
<line x1="1031.01" y1="183.9" x2="1031.01" y2="188" stroke-width="3"/>
<line x1="1076.49" y1="178.1" x2="1117.39" y2="178.1" stroke-width="3" stroke-linecap="round"/>
<line x1="1086.54" y1="174.2" x2="1107.3400000000001" y2="174.2" stroke-width="3" stroke-linecap="round"/>
<line x1="1086.54" y1="183.1" x2="1107.3400000000001" y2="183.1" stroke-width="3" stroke-linecap="round"/>
<line x1="1096.94" y1="174.2" x2="1096.94" y2="183.1" stroke-width="3"/>
<line x1="1142.4199999999998" y1="177.6" x2="1183.32" y2="177.6" stroke-width="3" stroke-linecap="round"/>
<line x1="1152.4699999999998" y1="172.9" x2="1173.27" y2="172.9" stroke-width="3" stroke-linecap="round"/>
<line x1="1152.4699999999998" y1="182" x2="1173.27" y2="182" stroke-width="3" stroke-linecap="round"/>
<line x1="1162.87" y1="172.9" x2="1162.87" y2="182" stroke-width="3"/>
<line x1="1208.35" y1="197.2" x2="1249.25" y2="197.2" stroke-width="3" stroke-linecap="round"/>
<line x1="1218.3999999999999" y1="189.7" x2="1239.2" y2="189.7" stroke-width="3" stroke-linecap="round"/>
<line x1="1218.3999999999999" y1="208.2" x2="1239.2" y2="208.2" stroke-width="3" stroke-linecap="round"/>
<line x1="1228.8" y1="189.7" x2="1228.8" y2="208.2" stroke-width="3"/>
<line x1="1274.28" y1="187.5" x2="1315.18" y2="187.5" stroke-width="3" stroke-linecap="round"/>
<line x1="1284.33" y1="181.7" x2="1305.13" y2="181.7" stroke-width="3" stroke-linecap="round"/>
<line x1="1284.33" y1="192.2" x2="1305.13" y2="192.2" stroke-width="3" stroke-linecap="round"/>
<line x1="1294.73" y1="181.7" x2="1294.73" y2="192.2" stroke-width="3"/>
<text x="1411" y="40" font-size="29.17">MyHC 2B</text>
<line x1="1548.8" y1="82.9" x2="1548.8" y2="395.0" stroke-width="4.2"/>
<line x1="1538.8" y1="392.9" x2="1548.8" y2="392.9" stroke-width="4.2" stroke-linecap="round"/>
<line x1="1546.8" y1="392.9" x2="2010.55" y2="392.9" stroke-width="4.2"/>
<line x1="1581.55" y1="392.9" x2="1581.55" y2="403.2" stroke-width="4.1" stroke-linecap="round"/>
<line x1="1647.48" y1="392.9" x2="1647.48" y2="403.2" stroke-width="4.1" stroke-linecap="round"/>
<line x1="1713.4099999999999" y1="392.9" x2="1713.4099999999999" y2="403.2" stroke-width="4.1" stroke-linecap="round"/>
<line x1="1779.34" y1="392.9" x2="1779.34" y2="403.2" stroke-width="4.1" stroke-linecap="round"/>
<line x1="1845.27" y1="392.9" x2="1845.27" y2="403.2" stroke-width="4.1" stroke-linecap="round"/>
<line x1="1911.2" y1="392.9" x2="1911.2" y2="403.2" stroke-width="4.1" stroke-linecap="round"/>
<line x1="1977.13" y1="392.9" x2="1977.13" y2="403.2" stroke-width="4.1" stroke-linecap="round"/>
<line x1="1538.8" y1="85.0" x2="1548.8" y2="85.0" stroke-width="4.1" stroke-linecap="round"/>
<line x1="1542.5" y1="128.04257286701204" x2="1548.8" y2="128.04257286701204" stroke-width="3.9" stroke-linecap="round"/>
<line x1="1542.5" y1="117.1988731343632" x2="1548.8" y2="117.1988731343632" stroke-width="3.9" stroke-linecap="round"/>
<line x1="1542.5" y1="109.50514573402407" x2="1548.8" y2="109.50514573402407" stroke-width="3.9" stroke-linecap="round"/>
<line x1="1542.5" y1="103.53742713298796" x2="1548.8" y2="103.53742713298796" stroke-width="3.9" stroke-linecap="round"/>
<line x1="1542.5" y1="98.66144600137523" x2="1548.8" y2="98.66144600137523" stroke-width="3.9" stroke-linecap="round"/>
<line x1="1542.5" y1="94.53886269592206" x2="1548.8" y2="94.53886269592206" stroke-width="3.9" stroke-linecap="round"/>
<line x1="1542.5" y1="90.96771860103611" x2="1548.8" y2="90.96771860103611" stroke-width="3.9" stroke-linecap="round"/>
<line x1="1542.5" y1="87.81774626872638" x2="1548.8" y2="87.81774626872638" stroke-width="3.9" stroke-linecap="round"/>
<text x="1440.5" y="92.5" font-size="27">1</text>
<text x="1464.5" y="92.5" font-size="27">x</text>
<text x="1490.5" y="92.5" font-size="27">10</text>
<text x="1520.5" y="81.7" font-size="17.5">8</text>
<line x1="1538.8" y1="146.57999999999998" x2="1548.8" y2="146.57999999999998" stroke-width="4.1" stroke-linecap="round"/>
<line x1="1542.5" y1="189.62257286701202" x2="1548.8" y2="189.62257286701202" stroke-width="3.9" stroke-linecap="round"/>
<line x1="1542.5" y1="178.77887313436318" x2="1548.8" y2="178.77887313436318" stroke-width="3.9" stroke-linecap="round"/>
<line x1="1542.5" y1="171.08514573402405" x2="1548.8" y2="171.08514573402405" stroke-width="3.9" stroke-linecap="round"/>
<line x1="1542.5" y1="165.11742713298793" x2="1548.8" y2="165.11742713298793" stroke-width="3.9" stroke-linecap="round"/>
<line x1="1542.5" y1="160.2414460013752" x2="1548.8" y2="160.2414460013752" stroke-width="3.9" stroke-linecap="round"/>
<line x1="1542.5" y1="156.11886269592205" x2="1548.8" y2="156.11886269592205" stroke-width="3.9" stroke-linecap="round"/>
<line x1="1542.5" y1="152.5477186010361" x2="1548.8" y2="152.5477186010361" stroke-width="3.9" stroke-linecap="round"/>
<line x1="1542.5" y1="149.39774626872637" x2="1548.8" y2="149.39774626872637" stroke-width="3.9" stroke-linecap="round"/>
<text x="1440.5" y="154.07999999999998" font-size="27">1</text>
<text x="1464.5" y="154.07999999999998" font-size="27">x</text>
<text x="1490.5" y="154.07999999999998" font-size="27">10</text>
<text x="1520.5" y="143.27999999999997" font-size="17.5">7</text>
<line x1="1538.8" y1="208.16" x2="1548.8" y2="208.16" stroke-width="4.1" stroke-linecap="round"/>
<line x1="1542.5" y1="251.20257286701204" x2="1548.8" y2="251.20257286701204" stroke-width="3.9" stroke-linecap="round"/>
<line x1="1542.5" y1="240.3588731343632" x2="1548.8" y2="240.3588731343632" stroke-width="3.9" stroke-linecap="round"/>
<line x1="1542.5" y1="232.66514573402407" x2="1548.8" y2="232.66514573402407" stroke-width="3.9" stroke-linecap="round"/>
<line x1="1542.5" y1="226.69742713298797" x2="1548.8" y2="226.69742713298797" stroke-width="3.9" stroke-linecap="round"/>
<line x1="1542.5" y1="221.82144600137522" x2="1548.8" y2="221.82144600137522" stroke-width="3.9" stroke-linecap="round"/>
<line x1="1542.5" y1="217.69886269592206" x2="1548.8" y2="217.69886269592206" stroke-width="3.9" stroke-linecap="round"/>
<line x1="1542.5" y1="214.12771860103612" x2="1548.8" y2="214.12771860103612" stroke-width="3.9" stroke-linecap="round"/>
<line x1="1542.5" y1="210.97774626872638" x2="1548.8" y2="210.97774626872638" stroke-width="3.9" stroke-linecap="round"/>
<text x="1440.5" y="215.66" font-size="27">1</text>
<text x="1464.5" y="215.66" font-size="27">x</text>
<text x="1490.5" y="215.66" font-size="27">10</text>
<text x="1520.5" y="204.85999999999999" font-size="17.5">6</text>
<line x1="1538.8" y1="269.74" x2="1548.8" y2="269.74" stroke-width="4.1" stroke-linecap="round"/>
<line x1="1542.5" y1="312.78257286701205" x2="1548.8" y2="312.78257286701205" stroke-width="3.9" stroke-linecap="round"/>
<line x1="1542.5" y1="301.9388731343632" x2="1548.8" y2="301.9388731343632" stroke-width="3.9" stroke-linecap="round"/>
<line x1="1542.5" y1="294.2451457340241" x2="1548.8" y2="294.2451457340241" stroke-width="3.9" stroke-linecap="round"/>
<line x1="1542.5" y1="288.27742713298795" x2="1548.8" y2="288.27742713298795" stroke-width="3.9" stroke-linecap="round"/>
<line x1="1542.5" y1="283.40144600137523" x2="1548.8" y2="283.40144600137523" stroke-width="3.9" stroke-linecap="round"/>
<line x1="1542.5" y1="279.2788626959221" x2="1548.8" y2="279.2788626959221" stroke-width="3.9" stroke-linecap="round"/>
<line x1="1542.5" y1="275.7077186010361" x2="1548.8" y2="275.7077186010361" stroke-width="3.9" stroke-linecap="round"/>
<line x1="1542.5" y1="272.55774626872636" x2="1548.8" y2="272.55774626872636" stroke-width="3.9" stroke-linecap="round"/>
<text x="1440.5" y="277.24" font-size="27">1</text>
<text x="1464.5" y="277.24" font-size="27">x</text>
<text x="1490.5" y="277.24" font-size="27">10</text>
<text x="1520.5" y="266.44" font-size="17.5">5</text>
<line x1="1538.8" y1="331.32" x2="1548.8" y2="331.32" stroke-width="4.1" stroke-linecap="round"/>
<line x1="1542.5" y1="374.36257286701203" x2="1548.8" y2="374.36257286701203" stroke-width="3.9" stroke-linecap="round"/>
<line x1="1542.5" y1="363.51887313436316" x2="1548.8" y2="363.51887313436316" stroke-width="3.9" stroke-linecap="round"/>
<line x1="1542.5" y1="355.8251457340241" x2="1548.8" y2="355.8251457340241" stroke-width="3.9" stroke-linecap="round"/>
<line x1="1542.5" y1="349.85742713298794" x2="1548.8" y2="349.85742713298794" stroke-width="3.9" stroke-linecap="round"/>
<line x1="1542.5" y1="344.9814460013752" x2="1548.8" y2="344.9814460013752" stroke-width="3.9" stroke-linecap="round"/>
<line x1="1542.5" y1="340.8588626959221" x2="1548.8" y2="340.8588626959221" stroke-width="3.9" stroke-linecap="round"/>
<line x1="1542.5" y1="337.2877186010361" x2="1548.8" y2="337.2877186010361" stroke-width="3.9" stroke-linecap="round"/>
<line x1="1542.5" y1="334.13774626872635" x2="1548.8" y2="334.13774626872635" stroke-width="3.9" stroke-linecap="round"/>
<text x="1440.5" y="338.82" font-size="27">1</text>
<text x="1464.5" y="338.82" font-size="27">x</text>
<text x="1490.5" y="338.82" font-size="27">10</text>
<text x="1520.5" y="328.02" font-size="17.5">4</text>
<line x1="1538.8" y1="392.9" x2="1548.8" y2="392.9" stroke-width="4.1" stroke-linecap="round"/>
<text x="1440.5" y="400.4" font-size="27">1</text>
<text x="1464.5" y="400.4" font-size="27">x</text>
<text x="1490.5" y="400.4" font-size="27">10</text>
<text x="1520.5" y="389.59999999999997" font-size="17.5">3</text>
<text transform="translate(1408.3 233.95) rotate(-90)" font-size="29.17" text-anchor="middle">Myh4 copies/<tspan font-weight="normal" font-family="Liberation Serif,serif">µ</tspan>l cDNA</text>
<text x="1580.05" y="440.7" font-size="29.17" text-anchor="middle">-</text>
<text x="1646.48" y="440.4" font-size="29.17" text-anchor="middle">+</text>
<text x="1711.9099999999999" y="440.7" font-size="29.17" text-anchor="middle">-</text>
<text x="1778.34" y="440.4" font-size="29.17" text-anchor="middle">+</text>
<text x="1843.77" y="440.7" font-size="29.17" text-anchor="middle">-</text>
<text x="1910.2" y="440.4" font-size="29.17" text-anchor="middle">+</text>
<text x="1975.63" y="440.7" font-size="29.17" text-anchor="middle">-</text>
<line x1="1560.05" y1="479.5" x2="1648.98" y2="479.5" stroke-width="3.8"/>
<line x1="1691.9099999999999" y1="479.5" x2="1780.84" y2="479.5" stroke-width="3.8"/>
<line x1="1823.77" y1="479.5" x2="1912.7" y2="479.5" stroke-width="3.8"/>
<text x="1602.815" y="520.75" font-size="29.17" text-anchor="middle">16-18d</text>
<text x="1740.6749999999997" y="520.75" font-size="29.17" text-anchor="middle">52d</text>
<text x="1872.5349999999999" y="520.75" font-size="29.17" text-anchor="middle">52d</text>
<text x="1975.43" y="520.75" font-size="29.17" text-anchor="middle">n/a</text>
<line x1="1561.85" y1="548.25" x2="1780.34" y2="548.25" stroke-width="3.8"/>
<line x1="1823.77" y1="548.25" x2="1912.7" y2="548.25" stroke-width="3.8"/>
<text x="1587.05" y="605.65" font-size="29.17" textLength="163.5" lengthAdjust="spacingAndGlyphs">LR41;Mbnl1</text>
<text x="1753.55" y="595.65" font-size="17" font-style="italic">-/-</text>
<text x="1833.77" y="605.65" font-size="29.17">LR20b</text>
<text x="1957.63" y="605.65" font-size="29.17">WT</text>
<circle cx="1571.6" cy="272.7" r="6.1"/>
<circle cx="1590.4" cy="273.5" r="6.1"/>
<circle cx="1580.9" cy="299.4" r="6.1"/>
<circle cx="1571.6" cy="310.8" r="6.1"/>
<circle cx="1590.4" cy="320.6" r="6.1"/>
<circle cx="1580.9" cy="341.6" r="6.1"/>
<path class="f" d="M1628.50 195.15h12.2L1634.60 207.45z"/>
<path class="f" d="M1653.80 187.75h12.2L1659.90 200.05z"/>
<path class="f" d="M1627.90 208.25h12.2L1634.00 220.55z"/>
<path class="f" d="M1641.00 222.35h12.2L1647.10 234.65z"/>
<path class="f" d="M1653.80 217.75h12.2L1659.90 230.05z"/>
<path class="f" d="M1642.90 200.55h12.2L1649.00 212.85z"/>
<circle cx="1700.8" cy="267.5" r="6.1"/>
<circle cx="1713" cy="263.4" r="6.1"/>
<circle cx="1726.1" cy="270.2" r="6.1"/>
<circle cx="1713" cy="285.7" r="6.1"/>
<path class="f" d="M1773.10 166.55h12.2L1779.20 178.85z"/>
<path class="f" d="M1762.80 178.75h12.2L1768.90 191.05z"/>
<path class="f" d="M1784.60 181.55h12.2L1790.70 193.85z"/>
<path class="f" d="M1773.10 188.85h12.2L1779.20 201.15z"/>
<circle cx="1832.4" cy="155.5" r="6.1"/>
<circle cx="1858.3" cy="151.4" r="6.1"/>
<circle cx="1845.2" cy="161.8" r="6.1"/>
<circle cx="1845.2" cy="184.9" r="6.1"/>
<path class="f" d="M1896.30 133.85h12.2L1902.40 146.15z"/>
<path class="f" d="M1914.60 142.85h12.2L1920.70 155.15z"/>
<path class="f" d="M1914.60 156.45h12.2L1920.70 168.75z"/>
<path class="f" d="M1896.30 167.05h12.2L1902.40 179.35z"/>
<path class="f" d="M1971.80 142.85h12.2L1977.90 130.55z"/>
<path class="f" d="M1962.20 166.55h12.2L1968.30 154.25z"/>
<path class="f" d="M1979.40 166.55h12.2L1985.50 154.25z"/>
<path class="f" d="M1975.30 172.15h12.2L1981.40 159.85z"/>
<path class="f" d="M1966.10 182.35h12.2L1972.20 170.05z"/>
<line x1="1561.1" y1="292.8" x2="1602.0" y2="292.8" stroke-width="3" stroke-linecap="round"/>
<line x1="1571.1499999999999" y1="284.4" x2="1591.95" y2="284.4" stroke-width="3" stroke-linecap="round"/>
<line x1="1571.1499999999999" y1="304.3" x2="1591.95" y2="304.3" stroke-width="3" stroke-linecap="round"/>
<line x1="1581.55" y1="284.4" x2="1581.55" y2="304.3" stroke-width="3"/>
<line x1="1627.03" y1="209.7" x2="1667.93" y2="209.7" stroke-width="3" stroke-linecap="round"/>
<line x1="1637.08" y1="204.8" x2="1657.88" y2="204.8" stroke-width="3" stroke-linecap="round"/>
<line x1="1637.08" y1="214.9" x2="1657.88" y2="214.9" stroke-width="3" stroke-linecap="round"/>
<line x1="1647.48" y1="204.8" x2="1647.48" y2="214.9" stroke-width="3"/>
<line x1="1692.9599999999998" y1="271.3" x2="1733.86" y2="271.3" stroke-width="3" stroke-linecap="round"/>
<line x1="1703.0099999999998" y1="268.6" x2="1723.81" y2="268.6" stroke-width="3" stroke-linecap="round"/>
<line x1="1703.0099999999998" y1="275.4" x2="1723.81" y2="275.4" stroke-width="3" stroke-linecap="round"/>
<line x1="1713.4099999999999" y1="268.6" x2="1713.4099999999999" y2="275.4" stroke-width="3"/>
<line x1="1758.8899999999999" y1="183.8" x2="1799.79" y2="183.8" stroke-width="3" stroke-linecap="round"/>
<line x1="1768.9399999999998" y1="180.3" x2="1789.74" y2="180.3" stroke-width="3" stroke-linecap="round"/>
<line x1="1768.9399999999998" y1="189.6" x2="1789.74" y2="189.6" stroke-width="3" stroke-linecap="round"/>
<line x1="1779.34" y1="180.3" x2="1779.34" y2="189.6" stroke-width="3"/>
<line x1="1824.82" y1="160.4" x2="1865.72" y2="160.4" stroke-width="3" stroke-linecap="round"/>
<line x1="1834.87" y1="154.4" x2="1855.67" y2="154.4" stroke-width="3" stroke-linecap="round"/>
<line x1="1834.87" y1="167.2" x2="1855.67" y2="167.2" stroke-width="3" stroke-linecap="round"/>
<line x1="1845.27" y1="154.4" x2="1845.27" y2="167.2" stroke-width="3"/>
<line x1="1890.75" y1="153.9" x2="1931.65" y2="153.9" stroke-width="3" stroke-linecap="round"/>
<line x1="1900.8" y1="146.8" x2="1921.6000000000001" y2="146.8" stroke-width="3" stroke-linecap="round"/>
<line x1="1900.8" y1="161.2" x2="1921.6000000000001" y2="161.2" stroke-width="3" stroke-linecap="round"/>
<line x1="1911.2" y1="146.8" x2="1911.2" y2="161.2" stroke-width="3"/>
<line x1="1956.68" y1="155.8" x2="1997.5800000000002" y2="155.8" stroke-width="3" stroke-linecap="round"/>
<line x1="1966.73" y1="149.5" x2="1987.5300000000002" y2="149.5" stroke-width="3" stroke-linecap="round"/>
<line x1="1966.73" y1="162.3" x2="1987.5300000000002" y2="162.3" stroke-width="3" stroke-linecap="round"/>
<line x1="1977.13" y1="149.5" x2="1977.13" y2="162.3" stroke-width="3"/>
<text x="-1" y="693.75" font-size="33">b</text>
<text x="41" y="732.5" font-size="29.17">MyHC 2A</text>
<line x1="179.1" y1="775.6" x2="179.1" y2="1087.8" stroke-width="4.2"/>
<line x1="169.1" y1="1085.7" x2="179.1" y2="1085.7" stroke-width="4.2" stroke-linecap="round"/>
<line x1="177.1" y1="1085.7" x2="640.85" y2="1085.7" stroke-width="4.2"/>
<line x1="211.85" y1="1085.7" x2="211.85" y2="1096.0" stroke-width="4.1" stroke-linecap="round"/>
<line x1="277.78" y1="1085.7" x2="277.78" y2="1096.0" stroke-width="4.1" stroke-linecap="round"/>
<line x1="343.71000000000004" y1="1085.7" x2="343.71000000000004" y2="1096.0" stroke-width="4.1" stroke-linecap="round"/>
<line x1="409.64" y1="1085.7" x2="409.64" y2="1096.0" stroke-width="4.1" stroke-linecap="round"/>
<line x1="475.57000000000005" y1="1085.7" x2="475.57000000000005" y2="1096.0" stroke-width="4.1" stroke-linecap="round"/>
<line x1="541.5" y1="1085.7" x2="541.5" y2="1096.0" stroke-width="4.1" stroke-linecap="round"/>
<line x1="607.4300000000001" y1="1085.7" x2="607.4300000000001" y2="1096.0" stroke-width="4.1" stroke-linecap="round"/>
<line x1="169.1" y1="777.7" x2="179.1" y2="777.7" stroke-width="4.1" stroke-linecap="round"/>
<text x="161.1" y="788.0" font-size="29.17" text-anchor="end">100</text>
<line x1="169.1" y1="839.3000000000001" x2="179.1" y2="839.3000000000001" stroke-width="4.1" stroke-linecap="round"/>
<text x="161.1" y="849.6" font-size="29.17" text-anchor="end">80</text>
<line x1="169.1" y1="900.9000000000001" x2="179.1" y2="900.9000000000001" stroke-width="4.1" stroke-linecap="round"/>
<text x="161.1" y="911.2" font-size="29.17" text-anchor="end">60</text>
<line x1="169.1" y1="962.5" x2="179.1" y2="962.5" stroke-width="4.1" stroke-linecap="round"/>
<text x="161.1" y="972.8" font-size="29.17" text-anchor="end">40</text>
<line x1="169.1" y1="1024.1000000000001" x2="179.1" y2="1024.1000000000001" stroke-width="4.1" stroke-linecap="round"/>
<text x="161.1" y="1034.4" font-size="29.17" text-anchor="end">20</text>
<line x1="169.1" y1="1085.7" x2="179.1" y2="1085.7" stroke-width="4.1" stroke-linecap="round"/>
<text x="161.1" y="1096.0" font-size="29.17" text-anchor="end">0</text>
<text transform="translate(85.1 919.7) rotate(-90)" font-size="29.17" text-anchor="middle">% Myh2</text>
<text x="210.35" y="1133.2" font-size="29.17" text-anchor="middle">-</text>
<text x="276.78" y="1132.9" font-size="29.17" text-anchor="middle">+</text>
<text x="342.21000000000004" y="1133.2" font-size="29.17" text-anchor="middle">-</text>
<text x="408.64" y="1132.9" font-size="29.17" text-anchor="middle">+</text>
<text x="474.07000000000005" y="1133.2" font-size="29.17" text-anchor="middle">-</text>
<text x="540.5" y="1132.9" font-size="29.17" text-anchor="middle">+</text>
<text x="605.9300000000001" y="1133.2" font-size="29.17" text-anchor="middle">-</text>
<line x1="188.54999999999998" y1="1169.0" x2="277.47999999999996" y2="1169.0" stroke-width="3.8"/>
<line x1="320.41" y1="1169.0" x2="409.34" y2="1169.0" stroke-width="3.8"/>
<line x1="452.27000000000004" y1="1169.0" x2="541.2" y2="1169.0" stroke-width="3.8"/>
<text x="231.315" y="1210.0" font-size="29.17" text-anchor="middle">16-18d</text>
<text x="369.175" y="1210.0" font-size="29.17" text-anchor="middle">52d</text>
<text x="501.035" y="1210.0" font-size="29.17" text-anchor="middle">52d</text>
<text x="603.9300000000001" y="1210.0" font-size="29.17" text-anchor="middle">n/a</text>
<line x1="190.35" y1="1237.5" x2="408.84" y2="1237.5" stroke-width="3.8"/>
<line x1="452.27000000000004" y1="1237.5" x2="541.2" y2="1237.5" stroke-width="3.8"/>
<text x="217.35" y="1297.65" font-size="29.17" textLength="163.5" lengthAdjust="spacingAndGlyphs">LR41;Mbnl1</text>
<text x="383.85" y="1287.65" font-size="17" font-style="italic">-/-</text>
<text x="464.07000000000005" y="1297.65" font-size="29.17">LR20b</text>
<text x="587.9300000000001" y="1297.65" font-size="29.17">WT</text>
<text x="27.2" y="1136.7" font-size="29.17" textLength="151.5" lengthAdjust="spacingAndGlyphs">Clcn1 ASO</text>
<text x="40.5" y="1210.0" font-size="29.17">Duration</text>
<path d="M214.75 748.1V739.6H277.75V748.1" fill="none" stroke-width="3" stroke-linecap="round" stroke-linejoin="miter"/>
<text x="246.85" y="735.1" font-size="29.17" text-anchor="middle" letter-spacing="1.2">****</text>
<path d="M344.25 748.1V739.6H407.5V748.1" fill="none" stroke-width="3" stroke-linecap="round" stroke-linejoin="miter"/>
<text x="376.475" y="735.1" font-size="29.17" text-anchor="middle" letter-spacing="1.2">***</text>
<circle cx="211.9" cy="1003.6" r="6.1"/>
<circle cx="202.4" cy="1025.2" r="6.1"/>
<circle cx="198.1" cy="1037.6" r="6.1"/>
<circle cx="220.6" cy="1033.3" r="6.1"/>
<circle cx="225.5" cy="1040.5" r="6.1"/>
<circle cx="211.9" cy="1052.9" r="6.1"/>
<path class="f" d="M271.80 1053.65h12.2L277.90 1065.95z"/>
<path class="f" d="M259.70 1060.25h12.2L265.80 1072.55z"/>
<path class="f" d="M283.60 1061.15h12.2L289.70 1073.45z"/>
<path class="f" d="M266.30 1066.05h12.2L272.40 1078.35z"/>
<path class="f" d="M277.80 1066.55h12.2L283.90 1078.85z"/>
<path class="f" d="M271.80 1073.25h12.2L277.90 1085.55z"/>
<circle cx="343.8" cy="1004.5" r="6.1"/>
<circle cx="330.9" cy="1037.6" r="6.1"/>
<circle cx="356.5" cy="1038.5" r="6.1"/>
<circle cx="343.8" cy="1050" r="6.1"/>
<path class="f" d="M412.60 1055.35h12.2L418.70 1067.65z"/>
<path class="f" d="M394.50 1063.75h12.2L400.60 1076.05z"/>
<path class="f" d="M408.90 1067.45h12.2L415.00 1079.75z"/>
<path class="f" d="M398.20 1073.25h12.2L404.30 1085.55z"/>
<circle cx="466.8" cy="1085.2" r="6.1"/>
<circle cx="471.5" cy="1086.4" r="6.1"/>
<circle cx="484.0" cy="1084.3" r="6.1"/>
<circle cx="479.6" cy="1086.1" r="6.1"/>
<path class="f" d="M528.40 1078.95h12.2L534.50 1091.25z"/>
<path class="f" d="M544.20 1077.05h12.2L550.30 1089.35z"/>
<path class="f" d="M535.00 1080.45h12.2L541.10 1092.75z"/>
<path class="f" d="M539.90 1079.65h12.2L546.00 1091.95z"/>
<path class="f" d="M593.20 1091.45h12.2L599.30 1079.15z"/>
<path class="f" d="M609.60 1089.35h12.2L615.70 1077.05z"/>
<path class="f" d="M601.80 1092.25h12.2L607.90 1079.95z"/>
<path class="f" d="M597.70 1091.85h12.2L603.80 1079.55z"/>
<line x1="191.4" y1="1032.1" x2="232.29999999999998" y2="1032.1" stroke-width="3" stroke-linecap="round"/>
<line x1="201.45" y1="1025.2" x2="222.25" y2="1025.2" stroke-width="3" stroke-linecap="round"/>
<line x1="201.45" y1="1038.5" x2="222.25" y2="1038.5" stroke-width="3" stroke-linecap="round"/>
<line x1="211.85" y1="1025.2" x2="211.85" y2="1038.5" stroke-width="3"/>
<line x1="257.33" y1="1070.7" x2="298.22999999999996" y2="1070.7" stroke-width="3" stroke-linecap="round"/>
<line x1="267.38" y1="1068.7" x2="288.17999999999995" y2="1068.7" stroke-width="3" stroke-linecap="round"/>
<line x1="267.38" y1="1073.6" x2="288.17999999999995" y2="1073.6" stroke-width="3" stroke-linecap="round"/>
<line x1="277.78" y1="1068.7" x2="277.78" y2="1073.6" stroke-width="3"/>
<line x1="323.26000000000005" y1="1032.7" x2="364.16" y2="1032.7" stroke-width="3" stroke-linecap="round"/>
<line x1="333.31000000000006" y1="1022.6" x2="354.11" y2="1022.6" stroke-width="3" stroke-linecap="round"/>
<line x1="333.31000000000006" y1="1041.9" x2="354.11" y2="1041.9" stroke-width="3" stroke-linecap="round"/>
<line x1="343.71000000000004" y1="1022.6" x2="343.71000000000004" y2="1041.9" stroke-width="3"/>
<line x1="389.19" y1="1071.9" x2="430.09" y2="1071.9" stroke-width="3" stroke-linecap="round"/>
<line x1="399.24" y1="1068.7" x2="420.03999999999996" y2="1068.7" stroke-width="3" stroke-linecap="round"/>
<line x1="399.24" y1="1075" x2="420.03999999999996" y2="1075" stroke-width="3" stroke-linecap="round"/>
<line x1="409.64" y1="1068.7" x2="409.64" y2="1075" stroke-width="3"/>
<line x1="455.12000000000006" y1="1084.8" x2="496.02000000000004" y2="1084.8" stroke-width="3" stroke-linecap="round"/>
<line x1="521.05" y1="1084.1" x2="561.95" y2="1084.1" stroke-width="3" stroke-linecap="round"/>
<line x1="586.98" y1="1084.2" x2="627.8800000000001" y2="1084.2" stroke-width="3" stroke-linecap="round"/>
<text x="729" y="732.5" font-size="29.17">MyHC 2X</text>
<line x1="864.0" y1="775.6" x2="864.0" y2="1087.8" stroke-width="4.2"/>
<line x1="854.0" y1="1085.7" x2="864.0" y2="1085.7" stroke-width="4.2" stroke-linecap="round"/>
<line x1="862.0" y1="1085.7" x2="1325.75" y2="1085.7" stroke-width="4.2"/>
<line x1="896.75" y1="1085.7" x2="896.75" y2="1096.0" stroke-width="4.1" stroke-linecap="round"/>
<line x1="962.6800000000001" y1="1085.7" x2="962.6800000000001" y2="1096.0" stroke-width="4.1" stroke-linecap="round"/>
<line x1="1028.6100000000001" y1="1085.7" x2="1028.6100000000001" y2="1096.0" stroke-width="4.1" stroke-linecap="round"/>
<line x1="1094.54" y1="1085.7" x2="1094.54" y2="1096.0" stroke-width="4.1" stroke-linecap="round"/>
<line x1="1160.47" y1="1085.7" x2="1160.47" y2="1096.0" stroke-width="4.1" stroke-linecap="round"/>
<line x1="1226.4" y1="1085.7" x2="1226.4" y2="1096.0" stroke-width="4.1" stroke-linecap="round"/>
<line x1="1292.33" y1="1085.7" x2="1292.33" y2="1096.0" stroke-width="4.1" stroke-linecap="round"/>
<line x1="854.0" y1="777.7" x2="864.0" y2="777.7" stroke-width="4.1" stroke-linecap="round"/>
<text x="847.5" y="788.0" font-size="29.17" text-anchor="end">100</text>
<line x1="854.0" y1="839.3000000000001" x2="864.0" y2="839.3000000000001" stroke-width="4.1" stroke-linecap="round"/>
<text x="847.5" y="849.6" font-size="29.17" text-anchor="end">80</text>
<line x1="854.0" y1="900.9000000000001" x2="864.0" y2="900.9000000000001" stroke-width="4.1" stroke-linecap="round"/>
<text x="847.5" y="911.2" font-size="29.17" text-anchor="end">60</text>
<line x1="854.0" y1="962.5" x2="864.0" y2="962.5" stroke-width="4.1" stroke-linecap="round"/>
<text x="847.5" y="972.8" font-size="29.17" text-anchor="end">40</text>
<line x1="854.0" y1="1024.1000000000001" x2="864.0" y2="1024.1000000000001" stroke-width="4.1" stroke-linecap="round"/>
<text x="847.5" y="1034.4" font-size="29.17" text-anchor="end">20</text>
<line x1="854.0" y1="1085.7" x2="864.0" y2="1085.7" stroke-width="4.1" stroke-linecap="round"/>
<text x="847.5" y="1096.0" font-size="29.17" text-anchor="end">0</text>
<text transform="translate(770.0 919.7) rotate(-90)" font-size="29.17" text-anchor="middle">% Myh1</text>
<text x="895.25" y="1133.2" font-size="29.17" text-anchor="middle">-</text>
<text x="961.6800000000001" y="1132.9" font-size="29.17" text-anchor="middle">+</text>
<text x="1027.1100000000001" y="1133.2" font-size="29.17" text-anchor="middle">-</text>
<text x="1093.54" y="1132.9" font-size="29.17" text-anchor="middle">+</text>
<text x="1158.97" y="1133.2" font-size="29.17" text-anchor="middle">-</text>
<text x="1225.4" y="1132.9" font-size="29.17" text-anchor="middle">+</text>
<text x="1290.83" y="1133.2" font-size="29.17" text-anchor="middle">-</text>
<line x1="877.95" y1="1169.0" x2="966.8800000000001" y2="1169.0" stroke-width="3.8"/>
<line x1="1009.8100000000002" y1="1169.0" x2="1098.74" y2="1169.0" stroke-width="3.8"/>
<line x1="1141.67" y1="1169.0" x2="1230.6000000000001" y2="1169.0" stroke-width="3.8"/>
<text x="920.715" y="1210.0" font-size="29.17" text-anchor="middle">16-18d</text>
<text x="1058.575" y="1210.0" font-size="29.17" text-anchor="middle">52d</text>
<text x="1190.435" y="1210.0" font-size="29.17" text-anchor="middle">52d</text>
<text x="1293.33" y="1210.0" font-size="29.17" text-anchor="middle">n/a</text>
<line x1="879.75" y1="1237.5" x2="1098.24" y2="1237.5" stroke-width="3.8"/>
<line x1="1141.67" y1="1237.5" x2="1230.6000000000001" y2="1237.5" stroke-width="3.8"/>
<text x="902.25" y="1297.65" font-size="29.17" textLength="163.5" lengthAdjust="spacingAndGlyphs">LR41;Mbnl1</text>
<text x="1068.75" y="1287.65" font-size="17" font-style="italic">-/-</text>
<text x="1148.97" y="1297.65" font-size="29.17">LR20b</text>
<text x="1272.83" y="1297.65" font-size="29.17">WT</text>
<path d="M900 748.1V739.6H963.5V748.1" fill="none" stroke-width="3" stroke-linecap="round" stroke-linejoin="miter"/>
<text x="932.35" y="735.1" font-size="29.17" text-anchor="middle" letter-spacing="1.2">****</text>
<path d="M1029.4 748.1V739.6H1092.9V748.1" fill="none" stroke-width="3" stroke-linecap="round" stroke-linejoin="miter"/>
<text x="1061.75" y="735.1" font-size="29.17" text-anchor="middle" letter-spacing="1.2">**</text>
<path d="M1165.2 748.1V739.6H1229V748.1" fill="none" stroke-width="3" stroke-linecap="round" stroke-linejoin="miter"/>
<text x="1197.6999999999998" y="735.1" font-size="29.17" text-anchor="middle" letter-spacing="1.2">*</text>
<circle cx="887.7" cy="824.1" r="6.1"/>
<circle cx="906.2" cy="838.5" r="6.1"/>
<circle cx="896.1" cy="842.9" r="6.1"/>
<circle cx="906.2" cy="846.3" r="6.1"/>
<circle cx="887.7" cy="863.6" r="6.1"/>
<circle cx="893" cy="843" r="6.1"/>
<path class="f" d="M947.60 889.75h12.2L953.70 902.05z"/>
<path class="f" d="M966.30 882.85h12.2L972.40 895.15z"/>
<path class="f" d="M957.10 911.65h12.2L963.20 923.95z"/>
<path class="f" d="M943.80 952.55h12.2L949.90 964.85z"/>
<path class="f" d="M970.10 962.05h12.2L976.20 974.35z"/>
<path class="f" d="M957.10 970.35h12.2L963.20 982.65z"/>
<circle cx="1029.1" cy="819.5" r="6.1"/>
<circle cx="1019.9" cy="837.7" r="6.1"/>
<circle cx="1038.7" cy="839.7" r="6.1"/>
<circle cx="1029.1" cy="869.9" r="6.1"/>
<path class="f" d="M1079.50 891.45h12.2L1085.60 903.75z"/>
<path class="f" d="M1098.50 890.85h12.2L1104.60 903.15z"/>
<path class="f" d="M1089.00 930.85h12.2L1095.10 943.15z"/>
<path class="f" d="M1089.00 956.85h12.2L1095.10 969.15z"/>
<circle cx="1161.1" cy="936.5" r="6.1"/>
<circle cx="1161.1" cy="973.9" r="6.1"/>
<circle cx="1170.6" cy="988" r="6.1"/>
<circle cx="1151.6" cy="997.5" r="6.1"/>
<path class="f" d="M1211.70 1015.85h12.2L1217.80 1028.15z"/>
<path class="f" d="M1230.70 1020.75h12.2L1236.80 1033.05z"/>
<path class="f" d="M1230.70 1037.45h12.2L1236.80 1049.75z"/>
<path class="f" d="M1211.70 1042.65h12.2L1217.80 1054.95z"/>
<path class="f" d="M1287.40 991.55h12.2L1293.50 979.25z"/>
<path class="f" d="M1274.50 1027.55h12.2L1280.60 1015.25z"/>
<path class="f" d="M1300.40 1029.05h12.2L1306.50 1016.75z"/>
<path class="f" d="M1287.40 1044.05h12.2L1293.50 1031.75z"/>
<line x1="876.3" y1="843.2" x2="917.2" y2="843.2" stroke-width="3" stroke-linecap="round"/>
<line x1="886.35" y1="838.3" x2="907.15" y2="838.3" stroke-width="3" stroke-linecap="round"/>
<line x1="886.35" y1="847.8" x2="907.15" y2="847.8" stroke-width="3" stroke-linecap="round"/>
<line x1="896.75" y1="838.3" x2="896.75" y2="847.8" stroke-width="3"/>
<line x1="942.23" y1="935" x2="983.1300000000001" y2="935" stroke-width="3" stroke-linecap="round"/>
<line x1="952.2800000000001" y1="919.2" x2="973.08" y2="919.2" stroke-width="3" stroke-linecap="round"/>
<line x1="952.2800000000001" y1="950.6" x2="973.08" y2="950.6" stroke-width="3" stroke-linecap="round"/>
<line x1="962.6800000000001" y1="919.2" x2="962.6800000000001" y2="950.6" stroke-width="3"/>
<line x1="1008.1600000000001" y1="841.4" x2="1049.0600000000002" y2="841.4" stroke-width="3" stroke-linecap="round"/>
<line x1="1018.2100000000002" y1="830.5" x2="1039.0100000000002" y2="830.5" stroke-width="3" stroke-linecap="round"/>
<line x1="1018.2100000000002" y1="852.1" x2="1039.0100000000002" y2="852.1" stroke-width="3" stroke-linecap="round"/>
<line x1="1028.6100000000001" y1="830.5" x2="1028.6100000000001" y2="852.1" stroke-width="3"/>
<line x1="1074.09" y1="924.7" x2="1114.99" y2="924.7" stroke-width="3" stroke-linecap="round"/>
<line x1="1084.1399999999999" y1="908.5" x2="1104.94" y2="908.5" stroke-width="3" stroke-linecap="round"/>
<line x1="1084.1399999999999" y1="940.8" x2="1104.94" y2="940.8" stroke-width="3" stroke-linecap="round"/>
<line x1="1094.54" y1="908.5" x2="1094.54" y2="940.8" stroke-width="3"/>
<line x1="1140.02" y1="973.6" x2="1180.92" y2="973.6" stroke-width="3" stroke-linecap="round"/>
<line x1="1150.07" y1="960.1" x2="1170.8700000000001" y2="960.1" stroke-width="3" stroke-linecap="round"/>
<line x1="1150.07" y1="986.6" x2="1170.8700000000001" y2="986.6" stroke-width="3" stroke-linecap="round"/>
<line x1="1160.47" y1="960.1" x2="1160.47" y2="986.6" stroke-width="3"/>
<line x1="1205.95" y1="1036.4" x2="1246.8500000000001" y2="1036.4" stroke-width="3" stroke-linecap="round"/>
<line x1="1216.0" y1="1030.1" x2="1236.8000000000002" y2="1030.1" stroke-width="3" stroke-linecap="round"/>
<line x1="1216.0" y1="1042.8" x2="1236.8000000000002" y2="1042.8" stroke-width="3" stroke-linecap="round"/>
<line x1="1226.4" y1="1030.1" x2="1226.4" y2="1042.8" stroke-width="3"/>
<line x1="1271.8799999999999" y1="1015.7" x2="1312.78" y2="1015.7" stroke-width="3" stroke-linecap="round"/>
<line x1="1281.9299999999998" y1="1004.7" x2="1302.73" y2="1004.7" stroke-width="3" stroke-linecap="round"/>
<line x1="1281.9299999999998" y1="1026.9" x2="1302.73" y2="1026.9" stroke-width="3" stroke-linecap="round"/>
<line x1="1292.33" y1="1004.7" x2="1292.33" y2="1026.9" stroke-width="3"/>
<text x="1411" y="732.5" font-size="29.17">MyHC 2B</text>
<line x1="1549.4" y1="775.6" x2="1549.4" y2="1087.8" stroke-width="4.2"/>
<line x1="1539.4" y1="1085.7" x2="1549.4" y2="1085.7" stroke-width="4.2" stroke-linecap="round"/>
<line x1="1547.4" y1="1085.7" x2="2011.15" y2="1085.7" stroke-width="4.2"/>
<line x1="1582.15" y1="1085.7" x2="1582.15" y2="1096.0" stroke-width="4.1" stroke-linecap="round"/>
<line x1="1648.0800000000002" y1="1085.7" x2="1648.0800000000002" y2="1096.0" stroke-width="4.1" stroke-linecap="round"/>
<line x1="1714.0100000000002" y1="1085.7" x2="1714.0100000000002" y2="1096.0" stroke-width="4.1" stroke-linecap="round"/>
<line x1="1779.94" y1="1085.7" x2="1779.94" y2="1096.0" stroke-width="4.1" stroke-linecap="round"/>
<line x1="1845.8700000000001" y1="1085.7" x2="1845.8700000000001" y2="1096.0" stroke-width="4.1" stroke-linecap="round"/>
<line x1="1911.8000000000002" y1="1085.7" x2="1911.8000000000002" y2="1096.0" stroke-width="4.1" stroke-linecap="round"/>
<line x1="1977.73" y1="1085.7" x2="1977.73" y2="1096.0" stroke-width="4.1" stroke-linecap="round"/>
<line x1="1539.4" y1="777.7" x2="1549.4" y2="777.7" stroke-width="4.1" stroke-linecap="round"/>
<text x="1532.9" y="788.0" font-size="29.17" text-anchor="end">100</text>
<line x1="1539.4" y1="839.3000000000001" x2="1549.4" y2="839.3000000000001" stroke-width="4.1" stroke-linecap="round"/>
<text x="1532.9" y="849.6" font-size="29.17" text-anchor="end">80</text>
<line x1="1539.4" y1="900.9000000000001" x2="1549.4" y2="900.9000000000001" stroke-width="4.1" stroke-linecap="round"/>
<text x="1532.9" y="911.2" font-size="29.17" text-anchor="end">60</text>
<line x1="1539.4" y1="962.5" x2="1549.4" y2="962.5" stroke-width="4.1" stroke-linecap="round"/>
<text x="1532.9" y="972.8" font-size="29.17" text-anchor="end">40</text>
<line x1="1539.4" y1="1024.1000000000001" x2="1549.4" y2="1024.1000000000001" stroke-width="4.1" stroke-linecap="round"/>
<text x="1532.9" y="1034.4" font-size="29.17" text-anchor="end">20</text>
<line x1="1539.4" y1="1085.7" x2="1549.4" y2="1085.7" stroke-width="4.1" stroke-linecap="round"/>
<text x="1532.9" y="1096.0" font-size="29.17" text-anchor="end">0</text>
<text transform="translate(1455.4 919.7) rotate(-90)" font-size="29.17" text-anchor="middle">% Myh4</text>
<text x="1580.65" y="1133.2" font-size="29.17" text-anchor="middle">-</text>
<text x="1647.0800000000002" y="1132.9" font-size="29.17" text-anchor="middle">+</text>
<text x="1712.5100000000002" y="1133.2" font-size="29.17" text-anchor="middle">-</text>
<text x="1778.94" y="1132.9" font-size="29.17" text-anchor="middle">+</text>
<text x="1844.3700000000001" y="1133.2" font-size="29.17" text-anchor="middle">-</text>
<text x="1910.8000000000002" y="1132.9" font-size="29.17" text-anchor="middle">+</text>
<text x="1976.23" y="1133.2" font-size="29.17" text-anchor="middle">-</text>
<line x1="1559.2500000000002" y1="1169.0" x2="1648.1800000000003" y2="1169.0" stroke-width="3.8"/>
<line x1="1691.1100000000004" y1="1169.0" x2="1780.0400000000002" y2="1169.0" stroke-width="3.8"/>
<line x1="1822.9700000000003" y1="1169.0" x2="1911.9000000000003" y2="1169.0" stroke-width="3.8"/>
<text x="1602.0150000000003" y="1210.0" font-size="29.17" text-anchor="middle">16-18d</text>
<text x="1739.8750000000002" y="1210.0" font-size="29.17" text-anchor="middle">52d</text>
<text x="1871.7350000000001" y="1210.0" font-size="29.17" text-anchor="middle">52d</text>
<text x="1974.63" y="1210.0" font-size="29.17" text-anchor="middle">n/a</text>
<line x1="1561.0500000000002" y1="1237.5" x2="1779.5400000000002" y2="1237.5" stroke-width="3.8"/>
<line x1="1822.9700000000003" y1="1237.5" x2="1911.9000000000003" y2="1237.5" stroke-width="3.8"/>
<text x="1587.65" y="1297.65" font-size="29.17" textLength="163.5" lengthAdjust="spacingAndGlyphs">LR41;Mbnl1</text>
<text x="1754.15" y="1287.65" font-size="17" font-style="italic">-/-</text>
<text x="1834.3700000000001" y="1297.65" font-size="29.17">LR20b</text>
<text x="1958.23" y="1297.65" font-size="29.17">WT</text>
<path d="M1584.8 748.1V739.6H1648.4V748.1" fill="none" stroke-width="3" stroke-linecap="round" stroke-linejoin="miter"/>
<text x="1617.1999999999998" y="735.1" font-size="29.17" text-anchor="middle" letter-spacing="1.2">****</text>
<path d="M1714.5 748.1V739.6H1778.1V748.1" fill="none" stroke-width="3" stroke-linecap="round" stroke-linejoin="miter"/>
<text x="1746.8999999999999" y="735.1" font-size="29.17" text-anchor="middle" letter-spacing="1.2">****</text>
<path d="M1850.3 748.1V739.6H1913.5V748.1" fill="none" stroke-width="3" stroke-linecap="round" stroke-linejoin="miter"/>
<text x="1882.5" y="735.1" font-size="29.17" text-anchor="middle" letter-spacing="1.2">*</text>
<circle cx="1582" cy="1063.5" r="6.1"/>
<circle cx="1569.8" cy="1072.7" r="6.1"/>
<circle cx="1594.5" cy="1072.7" r="6.1"/>
<circle cx="1575.9" cy="1076" r="6.1"/>
<circle cx="1588.4" cy="1076" r="6.1"/>
<circle cx="1582" cy="1083" r="6.1"/>
<path class="f" d="M1642.10 889.85h12.2L1648.20 902.15z"/>
<path class="f" d="M1651.90 905.15h12.2L1658.00 917.45z"/>
<path class="f" d="M1632.40 916.35h12.2L1638.50 928.65z"/>
<path class="f" d="M1642.10 941.95h12.2L1648.20 954.25z"/>
<path class="f" d="M1651.90 982.85h12.2L1658.00 995.15z"/>
<path class="f" d="M1633.00 986.45h12.2L1639.10 998.75z"/>
<circle cx="1705.3" cy="1075.2" r="6.1"/>
<circle cx="1723.4" cy="1071" r="6.1"/>
<circle cx="1719.2" cy="1076" r="6.1"/>
<circle cx="1709.5" cy="1079.4" r="6.1"/>
<path class="f" d="M1774.00 899.65h12.2L1780.10 911.95z"/>
<path class="f" d="M1774.00 932.15h12.2L1780.10 944.45z"/>
<path class="f" d="M1783.50 969.75h12.2L1789.60 982.05z"/>
<path class="f" d="M1765.10 982.85h12.2L1771.20 995.15z"/>
<circle cx="1846.3" cy="867.9" r="6.1"/>
<circle cx="1837.4" cy="877.1" r="6.1"/>
<circle cx="1855.5" cy="891" r="6.1"/>
<circle cx="1846.3" cy="930" r="6.1"/>
<path class="f" d="M1897.30 807.85h12.2L1903.40 820.15z"/>
<path class="f" d="M1915.60 813.35h12.2L1921.70 825.65z"/>
<path class="f" d="M1915.60 830.05h12.2L1921.70 842.35z"/>
<path class="f" d="M1897.30 837.55h12.2L1903.40 849.85z"/>
<path class="f" d="M1985.80 835.15h12.2L1991.90 822.85z"/>
<path class="f" d="M1959.30 850.75h12.2L1965.40 838.45z"/>
<path class="f" d="M1973.40 851.65h12.2L1979.50 839.35z"/>
<path class="f" d="M1972.40 889.65h12.2L1978.50 877.35z"/>
<line x1="1561.7" y1="1075.2" x2="1602.6000000000001" y2="1075.2" stroke-width="3" stroke-linecap="round"/>
<line x1="1571.75" y1="1073" x2="1592.5500000000002" y2="1073" stroke-width="3" stroke-linecap="round"/>
<line x1="1571.75" y1="1077.5" x2="1592.5500000000002" y2="1077.5" stroke-width="3" stroke-linecap="round"/>
<line x1="1582.15" y1="1073" x2="1582.15" y2="1077.5" stroke-width="3"/>
<line x1="1627.63" y1="943.9" x2="1668.5300000000002" y2="943.9" stroke-width="3" stroke-linecap="round"/>
<line x1="1637.68" y1="927.8" x2="1658.4800000000002" y2="927.8" stroke-width="3" stroke-linecap="round"/>
<line x1="1637.68" y1="960" x2="1658.4800000000002" y2="960" stroke-width="3" stroke-linecap="round"/>
<line x1="1648.0800000000002" y1="927.8" x2="1648.0800000000002" y2="960" stroke-width="3"/>
<line x1="1693.5600000000002" y1="1075.2" x2="1734.4600000000003" y2="1075.2" stroke-width="3" stroke-linecap="round"/>
<line x1="1759.49" y1="952.8" x2="1800.39" y2="952.8" stroke-width="3" stroke-linecap="round"/>
<line x1="1769.54" y1="934.2" x2="1790.3400000000001" y2="934.2" stroke-width="3" stroke-linecap="round"/>
<line x1="1769.54" y1="970.9" x2="1790.3400000000001" y2="970.9" stroke-width="3" stroke-linecap="round"/>
<line x1="1779.94" y1="934.2" x2="1779.94" y2="970.9" stroke-width="3"/>
<line x1="1825.42" y1="891.3" x2="1866.3200000000002" y2="891.3" stroke-width="3" stroke-linecap="round"/>
<line x1="1835.47" y1="877.7" x2="1856.2700000000002" y2="877.7" stroke-width="3" stroke-linecap="round"/>
<line x1="1835.47" y1="904.9" x2="1856.2700000000002" y2="904.9" stroke-width="3" stroke-linecap="round"/>
<line x1="1845.8700000000001" y1="877.7" x2="1845.8700000000001" y2="904.9" stroke-width="3"/>
<line x1="1891.3500000000001" y1="828.4" x2="1932.2500000000002" y2="828.4" stroke-width="3" stroke-linecap="round"/>
<line x1="1901.4" y1="822.3" x2="1922.2000000000003" y2="822.3" stroke-width="3" stroke-linecap="round"/>
<line x1="1901.4" y1="835.4" x2="1922.2000000000003" y2="835.4" stroke-width="3" stroke-linecap="round"/>
<line x1="1911.8000000000002" y1="822.3" x2="1911.8000000000002" y2="835.4" stroke-width="3"/>
<line x1="1957.28" y1="849.6" x2="1998.18" y2="849.6" stroke-width="3" stroke-linecap="round"/>
<line x1="1967.33" y1="838.2" x2="1988.13" y2="838.2" stroke-width="3" stroke-linecap="round"/>
<line x1="1967.33" y1="861.3" x2="1988.13" y2="861.3" stroke-width="3" stroke-linecap="round"/>
<line x1="1977.73" y1="838.2" x2="1977.73" y2="861.3" stroke-width="3"/>
<text x="-0.5" y="1365.2" font-size="33">c</text>
<line x1="179.1" y1="1424.7" x2="179.1" y2="1736.1999999999998" stroke-width="4.2"/>
<line x1="169.1" y1="1734.1" x2="179.1" y2="1734.1" stroke-width="4.2" stroke-linecap="round"/>
<line x1="177.1" y1="1734.1" x2="489.79999999999995" y2="1734.1" stroke-width="4.2"/>
<line x1="179.1" y1="1734.1" x2="179.1" y2="1744.3999999999999" stroke-width="4.1" stroke-linecap="round"/>
<text x="179.1" y="1778.6999999999998" font-size="29.17" text-anchor="middle">0</text>
<line x1="240.82" y1="1734.1" x2="240.82" y2="1744.3999999999999" stroke-width="4.1" stroke-linecap="round"/>
<text x="240.82" y="1778.6999999999998" font-size="29.17" text-anchor="middle">20</text>
<line x1="302.53999999999996" y1="1734.1" x2="302.53999999999996" y2="1744.3999999999999" stroke-width="4.1" stroke-linecap="round"/>
<text x="302.53999999999996" y="1778.6999999999998" font-size="29.17" text-anchor="middle">40</text>
<line x1="364.26" y1="1734.1" x2="364.26" y2="1744.3999999999999" stroke-width="4.1" stroke-linecap="round"/>
<text x="364.26" y="1778.6999999999998" font-size="29.17" text-anchor="middle">60</text>
<line x1="425.98" y1="1734.1" x2="425.98" y2="1744.3999999999999" stroke-width="4.1" stroke-linecap="round"/>
<text x="425.98" y="1778.6999999999998" font-size="29.17" text-anchor="middle">80</text>
<line x1="487.70000000000005" y1="1734.1" x2="487.70000000000005" y2="1744.3999999999999" stroke-width="4.1" stroke-linecap="round"/>
<text x="487.70000000000005" y="1778.6999999999998" font-size="29.17" text-anchor="middle">100</text>
<line x1="169.1" y1="1426.8" x2="179.1" y2="1426.8" stroke-width="4.1" stroke-linecap="round"/>
<text x="162.5" y="1437.1" font-size="29.17" text-anchor="end">100</text>
<line x1="169.1" y1="1488.26" x2="179.1" y2="1488.26" stroke-width="4.1" stroke-linecap="round"/>
<text x="162.5" y="1498.56" font-size="29.17" text-anchor="end">80</text>
<line x1="169.1" y1="1549.72" x2="179.1" y2="1549.72" stroke-width="4.1" stroke-linecap="round"/>
<text x="162.5" y="1560.02" font-size="29.17" text-anchor="end">60</text>
<line x1="169.1" y1="1611.1799999999998" x2="179.1" y2="1611.1799999999998" stroke-width="4.1" stroke-linecap="round"/>
<text x="162.5" y="1621.4799999999998" font-size="29.17" text-anchor="end">40</text>
<line x1="169.1" y1="1672.6399999999999" x2="179.1" y2="1672.6399999999999" stroke-width="4.1" stroke-linecap="round"/>
<text x="162.5" y="1682.9399999999998" font-size="29.17" text-anchor="end">20</text>
<line x1="169.1" y1="1734.1" x2="179.1" y2="1734.1" stroke-width="4.1" stroke-linecap="round"/>
<text x="162.5" y="1744.3999999999999" font-size="29.17" text-anchor="end">0</text>
<text x="169.6" y="1820.5" font-size="29.17" textLength="331.5" lengthAdjust="spacingAndGlyphs">Clcn1 % ex 7a inclusion</text>
<text transform="translate(85.1 1574.9499999999998) rotate(-90)" font-size="29.17" text-anchor="middle">% Myh2</text>
<text x="41" y="1381.7" font-size="29.17">MyHC 2A</text>
<text x="506" y="1493.6" font-size="29.17">r = 0.80</text>
<text x="507.5" y="1557" font-size="29.17" word-spacing="-2.5"><tspan font-style="italic">P</tspan> &lt; 0.0001</text>
<ellipse class="f" cx="202.7" cy="1733.5" rx="6.2" ry="6.2"/>
<ellipse class="f" cx="212.8" cy="1731.2" rx="6.2" ry="6.2"/>
<ellipse class="f" cx="285.4" cy="1717.4" rx="6.2" ry="6.2"/>
<ellipse class="f" cx="314.2" cy="1718.8" rx="6.2" ry="6.2"/>
<ellipse class="f" cx="329.1" cy="1715.7" rx="6.2" ry="6.2"/>
<ellipse class="f" cx="348.2" cy="1709.6" rx="6.2" ry="6.2"/>
<ellipse class="f" cx="345.9" cy="1724.3" rx="6.2" ry="6.2"/>
<ellipse class="f" cx="337.2" cy="1729.8" rx="6.2" ry="6.2"/>
<ellipse class="f" cx="383.3" cy="1723.2" rx="6.2" ry="6.2"/>
<ellipse class="f" cx="392.8" cy="1711.1" rx="6.2" ry="6.2"/>
<ellipse class="f" cx="397.7" cy="1727.5" rx="6.2" ry="6.2"/>
<ellipse class="f" cx="408.6" cy="1719.7" rx="6.2" ry="6.2"/>
<ellipse class="f" cx="478.3" cy="1652.3" rx="6.2" ry="6.2"/>
<ellipse class="f" cx="472" cy="1673.6" rx="6.2" ry="6.2"/>
<ellipse class="f" cx="476.3" cy="1680.8" rx="6.2" ry="6.2"/>
<ellipse class="f" cx="482.7" cy="1685.7" rx="6.2" ry="6.2"/>
<ellipse class="f" cx="477.8" cy="1698.1" rx="6.2" ry="6.2"/>
<ellipse class="f" cx="470.6" cy="1701.6" rx="6.2" ry="6.2"/>
<line x1="864.0" y1="1424.7" x2="864.0" y2="1736.1999999999998" stroke-width="4.2"/>
<line x1="854.0" y1="1734.1" x2="864.0" y2="1734.1" stroke-width="4.2" stroke-linecap="round"/>
<line x1="862.0" y1="1734.1" x2="1174.7" y2="1734.1" stroke-width="4.2"/>
<line x1="864.0" y1="1734.1" x2="864.0" y2="1744.3999999999999" stroke-width="4.1" stroke-linecap="round"/>
<text x="864.0" y="1778.6999999999998" font-size="29.17" text-anchor="middle">0</text>
<line x1="925.72" y1="1734.1" x2="925.72" y2="1744.3999999999999" stroke-width="4.1" stroke-linecap="round"/>
<text x="925.72" y="1778.6999999999998" font-size="29.17" text-anchor="middle">20</text>
<line x1="987.44" y1="1734.1" x2="987.44" y2="1744.3999999999999" stroke-width="4.1" stroke-linecap="round"/>
<text x="987.44" y="1778.6999999999998" font-size="29.17" text-anchor="middle">40</text>
<line x1="1049.16" y1="1734.1" x2="1049.16" y2="1744.3999999999999" stroke-width="4.1" stroke-linecap="round"/>
<text x="1049.16" y="1778.6999999999998" font-size="29.17" text-anchor="middle">60</text>
<line x1="1110.88" y1="1734.1" x2="1110.88" y2="1744.3999999999999" stroke-width="4.1" stroke-linecap="round"/>
<text x="1110.88" y="1778.6999999999998" font-size="29.17" text-anchor="middle">80</text>
<line x1="1172.6" y1="1734.1" x2="1172.6" y2="1744.3999999999999" stroke-width="4.1" stroke-linecap="round"/>
<text x="1172.6" y="1778.6999999999998" font-size="29.17" text-anchor="middle">100</text>
<line x1="854.0" y1="1426.8" x2="864.0" y2="1426.8" stroke-width="4.1" stroke-linecap="round"/>
<text x="847.4" y="1437.1" font-size="29.17" text-anchor="end">100</text>
<line x1="854.0" y1="1488.26" x2="864.0" y2="1488.26" stroke-width="4.1" stroke-linecap="round"/>
<text x="847.4" y="1498.56" font-size="29.17" text-anchor="end">80</text>
<line x1="854.0" y1="1549.72" x2="864.0" y2="1549.72" stroke-width="4.1" stroke-linecap="round"/>
<text x="847.4" y="1560.02" font-size="29.17" text-anchor="end">60</text>
<line x1="854.0" y1="1611.1799999999998" x2="864.0" y2="1611.1799999999998" stroke-width="4.1" stroke-linecap="round"/>
<text x="847.4" y="1621.4799999999998" font-size="29.17" text-anchor="end">40</text>
<line x1="854.0" y1="1672.6399999999999" x2="864.0" y2="1672.6399999999999" stroke-width="4.1" stroke-linecap="round"/>
<text x="847.4" y="1682.9399999999998" font-size="29.17" text-anchor="end">20</text>
<line x1="854.0" y1="1734.1" x2="864.0" y2="1734.1" stroke-width="4.1" stroke-linecap="round"/>
<text x="847.4" y="1744.3999999999999" font-size="29.17" text-anchor="end">0</text>
<text x="854.5" y="1820.5" font-size="29.17" textLength="331.5" lengthAdjust="spacingAndGlyphs">Clcn1 % ex 7a inclusion</text>
<text transform="translate(770.0 1574.9499999999998) rotate(-90)" font-size="29.17" text-anchor="middle">% Myh1</text>
<text x="725.5" y="1381.7" font-size="29.17">MyHC 2X</text>
<text x="1190.2" y="1643.4" font-size="29.17">r = 0.91</text>
<text x="1192.3" y="1706.7" font-size="29.17" word-spacing="-2.5"><tspan font-style="italic">P</tspan> &lt; 0.0001</text>
<ellipse class="f" cx="887.5" cy="1670.7" rx="6.2" ry="6.2"/>
<ellipse class="f" cx="899" cy="1668.7" rx="6.2" ry="6.2"/>
<ellipse class="f" cx="891" cy="1685.1" rx="6.2" ry="6.2"/>
<ellipse class="f" cx="897.6" cy="1633.3" rx="6.2" ry="6.2"/>
<ellipse class="f" cx="970.5" cy="1617.5" rx="6.2" ry="6.2"/>
<ellipse class="f" cx="999.3" cy="1538.5" rx="6.2" ry="6.2"/>
<ellipse class="f" cx="1014.2" cy="1608" rx="6.2" ry="6.2"/>
<ellipse class="f" cx="1022" cy="1567.6" rx="6.2" ry="6.2"/>
<ellipse class="f" cx="1033" cy="1544.9" rx="6.2" ry="6.2"/>
<ellipse class="f" cx="1031" cy="1625.5" rx="6.2" ry="6.2"/>
<ellipse class="f" cx="1068.1" cy="1547.5" rx="6.2" ry="6.2"/>
<ellipse class="f" cx="1077.9" cy="1546.9" rx="6.2" ry="6.2"/>
<ellipse class="f" cx="1082.8" cy="1612.6" rx="6.2" ry="6.2"/>
<ellipse class="f" cx="1093.5" cy="1587.8" rx="6.2" ry="6.2"/>
<ellipse class="f" cx="1162" cy="1468.3" rx="6.2" ry="6.2"/>
<ellipse class="f" cx="1156" cy="1474" rx="6.2" ry="6.2"/>
<ellipse class="f" cx="1166.9" cy="1486.4" rx="6.2" ry="6.2"/>
<ellipse class="f" cx="1156.8" cy="1492.2" rx="6.2" ry="6.2"/>
<ellipse class="f" cx="1163.4" cy="1495.9" rx="6.2" ry="6.2"/>
<ellipse class="f" cx="1164.6" cy="1512.3" rx="6.2" ry="6.2"/>
<ellipse class="f" cx="1161.7" cy="1518.7" rx="6.2" ry="6.2"/>
<line x1="1549.4" y1="1424.7" x2="1549.4" y2="1736.1999999999998" stroke-width="4.2"/>
<line x1="1539.4" y1="1734.1" x2="1549.4" y2="1734.1" stroke-width="4.2" stroke-linecap="round"/>
<line x1="1547.4" y1="1734.1" x2="1860.1000000000001" y2="1734.1" stroke-width="4.2"/>
<line x1="1549.4" y1="1734.1" x2="1549.4" y2="1744.3999999999999" stroke-width="4.1" stroke-linecap="round"/>
<text x="1549.4" y="1778.6999999999998" font-size="29.17" text-anchor="middle">0</text>
<line x1="1611.1200000000001" y1="1734.1" x2="1611.1200000000001" y2="1744.3999999999999" stroke-width="4.1" stroke-linecap="round"/>
<text x="1611.1200000000001" y="1778.6999999999998" font-size="29.17" text-anchor="middle">20</text>
<line x1="1672.8400000000001" y1="1734.1" x2="1672.8400000000001" y2="1744.3999999999999" stroke-width="4.1" stroke-linecap="round"/>
<text x="1672.8400000000001" y="1778.6999999999998" font-size="29.17" text-anchor="middle">40</text>
<line x1="1734.5600000000002" y1="1734.1" x2="1734.5600000000002" y2="1744.3999999999999" stroke-width="4.1" stroke-linecap="round"/>
<text x="1734.5600000000002" y="1778.6999999999998" font-size="29.17" text-anchor="middle">60</text>
<line x1="1796.2800000000002" y1="1734.1" x2="1796.2800000000002" y2="1744.3999999999999" stroke-width="4.1" stroke-linecap="round"/>
<text x="1796.2800000000002" y="1778.6999999999998" font-size="29.17" text-anchor="middle">80</text>
<line x1="1858.0" y1="1734.1" x2="1858.0" y2="1744.3999999999999" stroke-width="4.1" stroke-linecap="round"/>
<text x="1858.0" y="1778.6999999999998" font-size="29.17" text-anchor="middle">100</text>
<line x1="1539.4" y1="1426.8" x2="1549.4" y2="1426.8" stroke-width="4.1" stroke-linecap="round"/>
<text x="1532.8000000000002" y="1437.1" font-size="29.17" text-anchor="end">100</text>
<line x1="1539.4" y1="1488.26" x2="1549.4" y2="1488.26" stroke-width="4.1" stroke-linecap="round"/>
<text x="1532.8000000000002" y="1498.56" font-size="29.17" text-anchor="end">80</text>
<line x1="1539.4" y1="1549.72" x2="1549.4" y2="1549.72" stroke-width="4.1" stroke-linecap="round"/>
<text x="1532.8000000000002" y="1560.02" font-size="29.17" text-anchor="end">60</text>
<line x1="1539.4" y1="1611.1799999999998" x2="1549.4" y2="1611.1799999999998" stroke-width="4.1" stroke-linecap="round"/>
<text x="1532.8000000000002" y="1621.4799999999998" font-size="29.17" text-anchor="end">40</text>
<line x1="1539.4" y1="1672.6399999999999" x2="1549.4" y2="1672.6399999999999" stroke-width="4.1" stroke-linecap="round"/>
<text x="1532.8000000000002" y="1682.9399999999998" font-size="29.17" text-anchor="end">20</text>
<line x1="1539.4" y1="1734.1" x2="1549.4" y2="1734.1" stroke-width="4.1" stroke-linecap="round"/>
<text x="1532.8000000000002" y="1744.3999999999999" font-size="29.17" text-anchor="end">0</text>
<text x="1539.9" y="1820.5" font-size="29.17" textLength="331.5" lengthAdjust="spacingAndGlyphs">Clcn1 % ex 7a inclusion</text>
<text transform="translate(1455.4 1574.9499999999998) rotate(-90)" font-size="29.17" text-anchor="middle">% Myh4</text>
<text x="1410" y="1381.7" font-size="29.17">MyHC 2B</text>
<text x="1876" y="1493.6" font-size="29.17">r = -0.93</text>
<text x="1877.7" y="1557" font-size="29.17" word-spacing="-2.5"><tspan font-style="italic">P</tspan> &lt; 0.0001</text>
<ellipse class="f" cx="1576.4" cy="1477.8" rx="6.2" ry="6.2"/>
<ellipse class="f" cx="1572.6" cy="1491.6" rx="6.2" ry="6.2"/>
<ellipse class="f" cx="1584.4" cy="1493.9" rx="6.2" ry="6.2"/>
<ellipse class="f" cx="1583" cy="1531.6" rx="6.2" ry="6.2"/>
<ellipse class="f" cx="1656.1" cy="1560.4" rx="6.2" ry="6.2"/>
<ellipse class="f" cx="1716.6" cy="1545.4" rx="6.2" ry="6.2"/>
<ellipse class="f" cx="1699.9" cy="1571.9" rx="6.2" ry="6.2"/>
<ellipse class="f" cx="1708" cy="1597.6" rx="6.2" ry="6.2"/>
<ellipse class="f" cx="1684.9" cy="1637.9" rx="6.2" ry="6.2"/>
<ellipse class="f" cx="1718.6" cy="1641.4" rx="6.2" ry="6.2"/>
<ellipse class="f" cx="1754.4" cy="1624.7" rx="6.2" ry="6.2"/>
<ellipse class="f" cx="1763.6" cy="1637.9" rx="6.2" ry="6.2"/>
<ellipse class="f" cx="1768.8" cy="1555.5" rx="6.2" ry="6.2"/>
<ellipse class="f" cx="1779.4" cy="1587.8" rx="6.2" ry="6.2"/>
<ellipse class="f" cx="1849.4" cy="1711.9" rx="6.2" ry="6.2"/>
<ellipse class="f" cx="1841.3" cy="1721.1" rx="6.2" ry="6.2"/>
<ellipse class="f" cx="1852.3" cy="1722.6" rx="6.2" ry="6.2"/>
<ellipse class="f" cx="1845.7" cy="1728.3" rx="6.2" ry="6.2"/>
<ellipse class="f" cx="1849.4" cy="1732.7" rx="6.2" ry="6.2"/>
<ellipse class="f" cx="1842.2" cy="1731.2" rx="6.2" ry="6.2"/>
<text x="-0.5" y="1873.75" font-size="33">d</text>
<text x="29.5" y="1910.5" font-size="29.17">MyHC-emb</text>
<line x1="176.5" y1="1952.9" x2="176.5" y2="2266.1" stroke-width="4.2"/>
<line x1="166.5" y1="2264.0" x2="176.5" y2="2264.0" stroke-width="4.2" stroke-linecap="round"/>
<line x1="174.5" y1="2264.0" x2="638.25" y2="2264.0" stroke-width="4.2"/>
<line x1="209.25" y1="2264.0" x2="209.25" y2="2274.3" stroke-width="4.1" stroke-linecap="round"/>
<line x1="275.18" y1="2264.0" x2="275.18" y2="2274.3" stroke-width="4.1" stroke-linecap="round"/>
<line x1="341.11" y1="2264.0" x2="341.11" y2="2274.3" stroke-width="4.1" stroke-linecap="round"/>
<line x1="407.04" y1="2264.0" x2="407.04" y2="2274.3" stroke-width="4.1" stroke-linecap="round"/>
<line x1="472.97" y1="2264.0" x2="472.97" y2="2274.3" stroke-width="4.1" stroke-linecap="round"/>
<line x1="538.9000000000001" y1="2264.0" x2="538.9000000000001" y2="2274.3" stroke-width="4.1" stroke-linecap="round"/>
<line x1="604.83" y1="2264.0" x2="604.83" y2="2274.3" stroke-width="4.1" stroke-linecap="round"/>
<line x1="166.5" y1="1955.0" x2="176.5" y2="1955.0" stroke-width="4.1" stroke-linecap="round"/>
<text x="157.3" y="1965.3" font-size="29.17" text-anchor="end">15000</text>
<line x1="166.5" y1="2058.0" x2="176.5" y2="2058.0" stroke-width="4.1" stroke-linecap="round"/>
<text x="157.3" y="2068.3" font-size="29.17" text-anchor="end">10000</text>
<line x1="166.5" y1="2161.0" x2="176.5" y2="2161.0" stroke-width="4.1" stroke-linecap="round"/>
<text x="157.3" y="2171.3" font-size="29.17" text-anchor="end">5000</text>
<line x1="166.5" y1="2264.0" x2="176.5" y2="2264.0" stroke-width="4.1" stroke-linecap="round"/>
<text x="157.3" y="2274.3" font-size="29.17" text-anchor="end">0</text>
<text transform="translate(43.5 2102.5) rotate(-90)" font-size="29.17" text-anchor="middle">Myh3 copies/<tspan font-weight="normal" font-family="Liberation Serif,serif">µ</tspan>l cDNA</text>
<text x="207.75" y="2311.6000000000004" font-size="29.17" text-anchor="middle">-</text>
<text x="274.18" y="2311.3" font-size="29.17" text-anchor="middle">+</text>
<text x="339.61" y="2311.6000000000004" font-size="29.17" text-anchor="middle">-</text>
<text x="406.04" y="2311.3" font-size="29.17" text-anchor="middle">+</text>
<text x="471.47" y="2311.6000000000004" font-size="29.17" text-anchor="middle">-</text>
<text x="537.9000000000001" y="2311.3" font-size="29.17" text-anchor="middle">+</text>
<text x="603.33" y="2311.6000000000004" font-size="29.17" text-anchor="middle">-</text>
<line x1="188.95" y1="2350.0" x2="277.88" y2="2350.0" stroke-width="3.8"/>
<line x1="320.81" y1="2350.0" x2="409.74" y2="2350.0" stroke-width="3.8"/>
<line x1="452.67" y1="2350.0" x2="541.6000000000001" y2="2350.0" stroke-width="3.8"/>
<text x="231.715" y="2390.75" font-size="29.17" text-anchor="middle">16-18d</text>
<text x="369.57500000000005" y="2390.75" font-size="29.17" text-anchor="middle">52d</text>
<text x="501.43500000000006" y="2390.75" font-size="29.17" text-anchor="middle">52d</text>
<text x="604.33" y="2390.75" font-size="29.17" text-anchor="middle">n/a</text>
<line x1="190.75" y1="2419.0" x2="409.24" y2="2419.0" stroke-width="3.8"/>
<line x1="452.67" y1="2419.0" x2="541.6000000000001" y2="2419.0" stroke-width="3.8"/>
<text x="214.75" y="2476.4" font-size="29.17" textLength="163.5" lengthAdjust="spacingAndGlyphs">LR41;Mbnl1</text>
<text x="381.25" y="2466.4" font-size="17" font-style="italic">-/-</text>
<text x="461.47" y="2476.4" font-size="29.17">LR20b</text>
<text x="585.33" y="2476.4" font-size="29.17">WT</text>
<text x="24.2" y="2315.45" font-size="29.17" textLength="151.5" lengthAdjust="spacingAndGlyphs">Clcn1 ASO</text>
<text x="40.5" y="2390.75" font-size="29.17">Duration</text>
<path d="M341.25 1926.3V1917.8H404.25V1926.3" fill="none" stroke-width="3" stroke-linecap="round" stroke-linejoin="miter"/>
<text x="373.35" y="1916.3" font-size="29.17" text-anchor="middle" letter-spacing="1.2">*</text>
<circle cx="199.5" cy="2031.6" r="6.1"/>
<circle cx="218.3" cy="2025.5" r="6.1"/>
<circle cx="209" cy="2090.6" r="6.1"/>
<circle cx="209" cy="2177.6" r="6.1"/>
<circle cx="209" cy="2223.1" r="6.1"/>
<circle cx="209" cy="2248.2" r="6.1"/>
<path class="f" d="M268.60 2095.15h12.2L274.70 2107.45z"/>
<path class="f" d="M281.60 2177.25h12.2L287.70 2189.55z"/>
<path class="f" d="M256.20 2189.65h12.2L262.30 2201.95z"/>
<path class="f" d="M268.60 2193.05h12.2L274.70 2205.35z"/>
<path class="f" d="M259.70 2252.95h12.2L265.80 2265.25z"/>
<path class="f" d="M278.10 2251.25h12.2L284.20 2263.55z"/>
<circle cx="331.4" cy="1984.6" r="6.1"/>
<circle cx="350.2" cy="1974.6" r="6.1"/>
<circle cx="340.7" cy="2037.9" r="6.1"/>
<circle cx="340.7" cy="2089.2" r="6.1"/>
<path class="f" d="M387.30 2127.65h12.2L393.40 2139.95z"/>
<path class="f" d="M413.80 2117.65h12.2L419.90 2129.95z"/>
<path class="f" d="M400.20 2135.45h12.2L406.30 2147.75z"/>
<path class="f" d="M400.20 2229.65h12.2L406.30 2241.95z"/>
<circle cx="463.4" cy="2140.7" r="6.1"/>
<circle cx="481.8" cy="2157.2" r="6.1"/>
<circle cx="481.8" cy="2228" r="6.1"/>
<circle cx="463.4" cy="2233.8" r="6.1"/>
<path class="f" d="M523.20 2214.05h12.2L529.30 2226.35z"/>
<path class="f" d="M542.20 2232.55h12.2L548.30 2244.85z"/>
<path class="f" d="M523.20 2252.95h12.2L529.30 2265.25z"/>
<path class="f" d="M542.20 2250.65h12.2L548.30 2262.95z"/>
<path class="f" d="M586.00 2248.55h12.2L592.10 2236.25z"/>
<path class="f" d="M592.70 2260.05h12.2L598.80 2247.75z"/>
<path class="f" d="M599.40 2260.15h12.2L605.50 2247.85z"/>
<path class="f" d="M605.10 2259.75h12.2L611.20 2247.45z"/>
<path class="f" d="M610.30 2260.35h12.2L616.40 2248.05z"/>
<path class="f" d="M598.60 2262.35h12.2L604.70 2250.05z"/>
<line x1="188.8" y1="2132.4" x2="229.7" y2="2132.4" stroke-width="3" stroke-linecap="round"/>
<line x1="198.85" y1="2093.5" x2="219.65" y2="2093.5" stroke-width="3" stroke-linecap="round"/>
<line x1="198.85" y1="2172.1" x2="219.65" y2="2172.1" stroke-width="3" stroke-linecap="round"/>
<line x1="209.25" y1="2093.5" x2="209.25" y2="2172.1" stroke-width="3"/>
<line x1="254.73000000000002" y1="2200.1" x2="295.63" y2="2200.1" stroke-width="3" stroke-linecap="round"/>
<line x1="264.78000000000003" y1="2176.2" x2="285.58" y2="2176.2" stroke-width="3" stroke-linecap="round"/>
<line x1="264.78000000000003" y1="2223.7" x2="285.58" y2="2223.7" stroke-width="3" stroke-linecap="round"/>
<line x1="275.18" y1="2176.2" x2="275.18" y2="2223.7" stroke-width="3"/>
<line x1="320.66" y1="2021.2" x2="361.56" y2="2021.2" stroke-width="3" stroke-linecap="round"/>
<line x1="330.71000000000004" y1="1994.7" x2="351.51" y2="1994.7" stroke-width="3" stroke-linecap="round"/>
<line x1="330.71000000000004" y1="2047.7" x2="351.51" y2="2047.7" stroke-width="3" stroke-linecap="round"/>
<line x1="341.11" y1="1994.7" x2="341.11" y2="2047.7" stroke-width="3"/>
<line x1="386.59000000000003" y1="2159.2" x2="427.49" y2="2159.2" stroke-width="3" stroke-linecap="round"/>
<line x1="396.64000000000004" y1="2133.5" x2="417.44" y2="2133.5" stroke-width="3" stroke-linecap="round"/>
<line x1="396.64000000000004" y1="2185.1" x2="417.44" y2="2185.1" stroke-width="3" stroke-linecap="round"/>
<line x1="407.04" y1="2133.5" x2="407.04" y2="2185.1" stroke-width="3"/>
<line x1="452.52000000000004" y1="2189.4" x2="493.42" y2="2189.4" stroke-width="3" stroke-linecap="round"/>
<line x1="462.57000000000005" y1="2165.8" x2="483.37" y2="2165.8" stroke-width="3" stroke-linecap="round"/>
<line x1="462.57000000000005" y1="2213" x2="483.37" y2="2213" stroke-width="3" stroke-linecap="round"/>
<line x1="472.97" y1="2165.8" x2="472.97" y2="2213" stroke-width="3"/>
<line x1="518.45" y1="2244.1" x2="559.3500000000001" y2="2244.1" stroke-width="3" stroke-linecap="round"/>
<line x1="528.5000000000001" y1="2235.2" x2="549.3000000000001" y2="2235.2" stroke-width="3" stroke-linecap="round"/>
<line x1="528.5000000000001" y1="2253.4" x2="549.3000000000001" y2="2253.4" stroke-width="3" stroke-linecap="round"/>
<line x1="538.9000000000001" y1="2235.2" x2="538.9000000000001" y2="2253.4" stroke-width="3"/>
<line x1="584.38" y1="2251.9" x2="625.2800000000001" y2="2251.9" stroke-width="3" stroke-linecap="round"/>
<line x1="594.4300000000001" y1="2249.6" x2="615.23" y2="2249.6" stroke-width="3" stroke-linecap="round"/>
<line x1="594.4300000000001" y1="2254.5" x2="615.23" y2="2254.5" stroke-width="3" stroke-linecap="round"/>
<line x1="604.83" y1="2249.6" x2="604.83" y2="2254.5" stroke-width="3"/>
<text x="694" y="1874" font-size="33">e</text>
<text x="717.5" y="1911" font-size="29.17">MyHC-emb</text>
<line x1="866.0" y1="1952.9" x2="866.0" y2="2266.1" stroke-width="4.2"/>
<line x1="856.0" y1="2264.0" x2="866.0" y2="2264.0" stroke-width="4.2" stroke-linecap="round"/>
<line x1="864.0" y1="2264.0" x2="1327.75" y2="2264.0" stroke-width="4.2"/>
<line x1="898.75" y1="2264.0" x2="898.75" y2="2274.3" stroke-width="4.1" stroke-linecap="round"/>
<line x1="964.6800000000001" y1="2264.0" x2="964.6800000000001" y2="2274.3" stroke-width="4.1" stroke-linecap="round"/>
<line x1="1030.6100000000001" y1="2264.0" x2="1030.6100000000001" y2="2274.3" stroke-width="4.1" stroke-linecap="round"/>
<line x1="1096.54" y1="2264.0" x2="1096.54" y2="2274.3" stroke-width="4.1" stroke-linecap="round"/>
<line x1="1162.47" y1="2264.0" x2="1162.47" y2="2274.3" stroke-width="4.1" stroke-linecap="round"/>
<line x1="1228.4" y1="2264.0" x2="1228.4" y2="2274.3" stroke-width="4.1" stroke-linecap="round"/>
<line x1="1294.33" y1="2264.0" x2="1294.33" y2="2274.3" stroke-width="4.1" stroke-linecap="round"/>
<line x1="856.0" y1="1955.0" x2="866.0" y2="1955.0" stroke-width="4.1" stroke-linecap="round"/>
<text x="845.6" y="1965.3" font-size="29.17" text-anchor="end">0.8</text>
<line x1="856.0" y1="2032.25" x2="866.0" y2="2032.25" stroke-width="4.1" stroke-linecap="round"/>
<text x="845.6" y="2042.55" font-size="29.17" text-anchor="end">0.6</text>
<line x1="856.0" y1="2109.5" x2="866.0" y2="2109.5" stroke-width="4.1" stroke-linecap="round"/>
<text x="845.6" y="2119.8" font-size="29.17" text-anchor="end">0.4</text>
<line x1="856.0" y1="2186.75" x2="866.0" y2="2186.75" stroke-width="4.1" stroke-linecap="round"/>
<text x="845.6" y="2197.05" font-size="29.17" text-anchor="end">0.2</text>
<line x1="856.0" y1="2264.0" x2="866.0" y2="2264.0" stroke-width="4.1" stroke-linecap="round"/>
<text x="845.6" y="2274.3" font-size="29.17" text-anchor="end">0</text>
<text transform="translate(772.0 2097.5) rotate(-90)" font-size="29.17" text-anchor="middle">% Myh3</text>
<text x="897.25" y="2311.6000000000004" font-size="29.17" text-anchor="middle">-</text>
<text x="963.6800000000001" y="2311.3" font-size="29.17" text-anchor="middle">+</text>
<text x="1029.1100000000001" y="2311.6000000000004" font-size="29.17" text-anchor="middle">-</text>
<text x="1095.54" y="2311.3" font-size="29.17" text-anchor="middle">+</text>
<text x="1160.97" y="2311.6000000000004" font-size="29.17" text-anchor="middle">-</text>
<text x="1227.4" y="2311.3" font-size="29.17" text-anchor="middle">+</text>
<text x="1292.83" y="2311.6000000000004" font-size="29.17" text-anchor="middle">-</text>
<line x1="878.45" y1="2350.0" x2="967.3800000000001" y2="2350.0" stroke-width="3.8"/>
<line x1="1010.3100000000002" y1="2350.0" x2="1099.24" y2="2350.0" stroke-width="3.8"/>
<line x1="1142.17" y1="2350.0" x2="1231.1000000000001" y2="2350.0" stroke-width="3.8"/>
<text x="921.215" y="2390.75" font-size="29.17" text-anchor="middle">16-18d</text>
<text x="1059.075" y="2390.75" font-size="29.17" text-anchor="middle">52d</text>
<text x="1190.935" y="2390.75" font-size="29.17" text-anchor="middle">52d</text>
<text x="1293.83" y="2390.75" font-size="29.17" text-anchor="middle">n/a</text>
<line x1="880.25" y1="2419.0" x2="1098.74" y2="2419.0" stroke-width="3.8"/>
<line x1="1142.17" y1="2419.0" x2="1231.1000000000001" y2="2419.0" stroke-width="3.8"/>
<text x="904.25" y="2474.4" font-size="29.17" textLength="163.5" lengthAdjust="spacingAndGlyphs">LR41;Mbnl1</text>
<text x="1070.75" y="2464.4" font-size="17" font-style="italic">-/-</text>
<text x="1150.97" y="2474.4" font-size="29.17">LR20b</text>
<text x="1274.83" y="2474.4" font-size="29.17">WT</text>
<path d="M901 1926.1V1917.6H964.5V1926.1" fill="none" stroke-width="3" stroke-linecap="round" stroke-linejoin="miter"/>
<text x="933.35" y="1916.1" font-size="29.17" text-anchor="middle" letter-spacing="1.2">**</text>
<path d="M1030.6 1926.1V1917.6H1094.2V1926.1" fill="none" stroke-width="3" stroke-linecap="round" stroke-linejoin="miter"/>
<text x="1063.0" y="1916.1" font-size="29.17" text-anchor="middle" letter-spacing="1.2">**</text>
<circle cx="898.2" cy="1998.2" r="6.1"/>
<circle cx="888.4" cy="2056.6" r="6.1"/>
<circle cx="907.7" cy="2058.1" r="6.1"/>
<circle cx="898.2" cy="2138.7" r="6.1"/>
<circle cx="898.2" cy="2173.9" r="6.1"/>
<circle cx="898.2" cy="2209.9" r="6.1"/>
<path class="f" d="M958.00 2163.65h12.2L964.10 2175.95z"/>
<path class="f" d="M958.00 2198.85h12.2L964.10 2211.15z"/>
<path class="f" d="M949.10 2206.05h12.2L955.20 2218.35z"/>
<path class="f" d="M967.30 2222.75h12.2L973.40 2235.05z"/>
<path class="f" d="M967.30 2243.45h12.2L973.40 2255.75z"/>
<path class="f" d="M948.50 2249.85h12.2L954.60 2262.15z"/>
<circle cx="1030.1" cy="2022.9" r="6.1"/>
<circle cx="1030.1" cy="2086" r="6.1"/>
<circle cx="1030.1" cy="2118.9" r="6.1"/>
<circle cx="1030.1" cy="2170.4" r="6.1"/>
<path class="f" d="M1080.70 2211.25h12.2L1086.80 2223.55z"/>
<path class="f" d="M1099.20 2214.65h12.2L1105.30 2226.95z"/>
<path class="f" d="M1099.20 2227.65h12.2L1105.30 2239.95z"/>
<path class="f" d="M1080.70 2244.35h12.2L1086.80 2256.65z"/>
<circle cx="1162" cy="2221.7" r="6.1"/>
<circle cx="1149" cy="2246.7" r="6.1"/>
<circle cx="1162" cy="2257.7" r="6.1"/>
<circle cx="1175" cy="2257.7" r="6.1"/>
<path class="f" d="M1214.00 2255.05h12.2L1220.10 2267.35z"/>
<path class="f" d="M1233.00 2249.85h12.2L1239.10 2262.15z"/>
<path class="f" d="M1222.90 2257.35h12.2L1229.00 2269.65z"/>
<path class="f" d="M1227.80 2255.65h12.2L1233.90 2267.95z"/>
<path class="f" d="M1279.70 2268.35h12.2L1285.80 2256.05z"/>
<path class="f" d="M1297.50 2264.95h12.2L1303.60 2252.65z"/>
<path class="f" d="M1288.90 2269.25h12.2L1295.00 2256.95z"/>
<path class="f" d="M1292.70 2267.75h12.2L1298.80 2255.45z"/>
<line x1="878.3" y1="2105.3" x2="919.2" y2="2105.3" stroke-width="3" stroke-linecap="round"/>
<line x1="888.35" y1="2072.5" x2="909.15" y2="2072.5" stroke-width="3" stroke-linecap="round"/>
<line x1="888.35" y1="2138.2" x2="909.15" y2="2138.2" stroke-width="3" stroke-linecap="round"/>
<line x1="898.75" y1="2072.5" x2="898.75" y2="2138.2" stroke-width="3"/>
<line x1="944.23" y1="2221.1" x2="985.1300000000001" y2="2221.1" stroke-width="3" stroke-linecap="round"/>
<line x1="954.2800000000001" y1="2208.4" x2="975.08" y2="2208.4" stroke-width="3" stroke-linecap="round"/>
<line x1="954.2800000000001" y1="2233.8" x2="975.08" y2="2233.8" stroke-width="3" stroke-linecap="round"/>
<line x1="964.6800000000001" y1="2208.4" x2="964.6800000000001" y2="2233.8" stroke-width="3"/>
<line x1="1010.1600000000001" y1="2099" x2="1051.0600000000002" y2="2099" stroke-width="3" stroke-linecap="round"/>
<line x1="1020.2100000000002" y1="2068.2" x2="1041.0100000000002" y2="2068.2" stroke-width="3" stroke-linecap="round"/>
<line x1="1020.2100000000002" y1="2130.4" x2="1041.0100000000002" y2="2130.4" stroke-width="3" stroke-linecap="round"/>
<line x1="1030.6100000000001" y1="2068.2" x2="1030.6100000000001" y2="2130.4" stroke-width="3"/>
<line x1="1076.09" y1="2231.5" x2="1116.99" y2="2231.5" stroke-width="3" stroke-linecap="round"/>
<line x1="1086.1399999999999" y1="2224.6" x2="1106.94" y2="2224.6" stroke-width="3" stroke-linecap="round"/>
<line x1="1086.1399999999999" y1="2239" x2="1106.94" y2="2239" stroke-width="3" stroke-linecap="round"/>
<line x1="1096.54" y1="2224.6" x2="1096.54" y2="2239" stroke-width="3"/>
<line x1="1142.02" y1="2245.9" x2="1182.92" y2="2245.9" stroke-width="3" stroke-linecap="round"/>
<line x1="1152.07" y1="2236.9" x2="1172.8700000000001" y2="2236.9" stroke-width="3" stroke-linecap="round"/>
<line x1="1152.07" y1="2253.9" x2="1172.8700000000001" y2="2253.9" stroke-width="3" stroke-linecap="round"/>
<line x1="1162.47" y1="2236.9" x2="1162.47" y2="2253.9" stroke-width="3"/>
<line x1="1207.95" y1="2261" x2="1248.8500000000001" y2="2261" stroke-width="3" stroke-linecap="round"/>
<line x1="1218.0" y1="2259.6" x2="1238.8000000000002" y2="2259.6" stroke-width="3" stroke-linecap="round"/>
<line x1="1218.0" y1="2262.4" x2="1238.8000000000002" y2="2262.4" stroke-width="3" stroke-linecap="round"/>
<line x1="1228.4" y1="2259.6" x2="1228.4" y2="2262.4" stroke-width="3"/>
<line x1="1273.8799999999999" y1="2262.3" x2="1314.78" y2="2262.3" stroke-width="3" stroke-linecap="round"/>
<line x1="1283.9299999999998" y1="2261.3" x2="1304.73" y2="2261.3" stroke-width="3" stroke-linecap="round"/>
<line x1="1283.9299999999998" y1="2263.3" x2="1304.73" y2="2263.3" stroke-width="3" stroke-linecap="round"/>
<line x1="1294.33" y1="2261.3" x2="1294.33" y2="2263.3" stroke-width="3"/>
<text x="1382.5" y="1873.75" font-size="33">f</text>
<line x1="1549.4" y1="1953.7" x2="1549.4" y2="2266.1" stroke-width="4.2"/>
<line x1="1539.4" y1="2264.0" x2="1549.4" y2="2264.0" stroke-width="4.2" stroke-linecap="round"/>
<line x1="1547.4" y1="2264.0" x2="1860.1000000000001" y2="2264.0" stroke-width="4.2"/>
<line x1="1549.4" y1="2264.0" x2="1549.4" y2="2274.3" stroke-width="4.1" stroke-linecap="round"/>
<text x="1549.4" y="2308.6" font-size="29.17" text-anchor="middle">0</text>
<line x1="1611.1200000000001" y1="2264.0" x2="1611.1200000000001" y2="2274.3" stroke-width="4.1" stroke-linecap="round"/>
<text x="1611.1200000000001" y="2308.6" font-size="29.17" text-anchor="middle">20</text>
<line x1="1672.8400000000001" y1="2264.0" x2="1672.8400000000001" y2="2274.3" stroke-width="4.1" stroke-linecap="round"/>
<text x="1672.8400000000001" y="2308.6" font-size="29.17" text-anchor="middle">40</text>
<line x1="1734.5600000000002" y1="2264.0" x2="1734.5600000000002" y2="2274.3" stroke-width="4.1" stroke-linecap="round"/>
<text x="1734.5600000000002" y="2308.6" font-size="29.17" text-anchor="middle">60</text>
<line x1="1796.2800000000002" y1="2264.0" x2="1796.2800000000002" y2="2274.3" stroke-width="4.1" stroke-linecap="round"/>
<text x="1796.2800000000002" y="2308.6" font-size="29.17" text-anchor="middle">80</text>
<line x1="1858.0" y1="2264.0" x2="1858.0" y2="2274.3" stroke-width="4.1" stroke-linecap="round"/>
<text x="1858.0" y="2308.6" font-size="29.17" text-anchor="middle">100</text>
<line x1="1539.4" y1="1955.8" x2="1549.4" y2="1955.8" stroke-width="4.1" stroke-linecap="round"/>
<text x="1532.8000000000002" y="1966.1" font-size="29.17" text-anchor="end">0.8</text>
<line x1="1539.4" y1="2032.85" x2="1549.4" y2="2032.85" stroke-width="4.1" stroke-linecap="round"/>
<text x="1532.8000000000002" y="2043.1499999999999" font-size="29.17" text-anchor="end">0.6</text>
<line x1="1539.4" y1="2109.9" x2="1549.4" y2="2109.9" stroke-width="4.1" stroke-linecap="round"/>
<text x="1532.8000000000002" y="2120.2000000000003" font-size="29.17" text-anchor="end">0.4</text>
<line x1="1539.4" y1="2186.95" x2="1549.4" y2="2186.95" stroke-width="4.1" stroke-linecap="round"/>
<text x="1532.8000000000002" y="2197.25" font-size="29.17" text-anchor="end">0.2</text>
<line x1="1539.4" y1="2264.0" x2="1549.4" y2="2264.0" stroke-width="4.1" stroke-linecap="round"/>
<text x="1532.8000000000002" y="2274.3" font-size="29.17" text-anchor="end">0</text>
<text x="1539.9" y="2350.4" font-size="29.17" textLength="331.5" lengthAdjust="spacingAndGlyphs">Clcn1 % ex 7a inclusion</text>
<text transform="translate(1455.4 2096.7000000000003) rotate(-90)" font-size="29.17" text-anchor="middle">% Myh3</text>
<text x="1410.5" y="1912.5" font-size="29.17">MyHC emb</text>
<text x="1876" y="2024.1" font-size="29.17">r = 0.74</text>
<text x="1876.7" y="2087.5" font-size="29.17" word-spacing="-2.5"><tspan font-style="italic">P</tspan> &lt; 0.0001</text>
<ellipse class="f" cx="1572.6" cy="2264" rx="6.2" ry="6.2"/>
<ellipse class="f" cx="1575.8" cy="2262" rx="6.2" ry="6.2"/>
<ellipse class="f" cx="1583.6" cy="2259.1" rx="6.2" ry="6.2"/>
<ellipse class="f" cx="1656.1" cy="2256.8" rx="6.2" ry="6.2"/>
<ellipse class="f" cx="1684.9" cy="2207" rx="6.2" ry="6.2"/>
<ellipse class="f" cx="1699.9" cy="2214.5" rx="6.2" ry="6.2"/>
<ellipse class="f" cx="1708" cy="2230.9" rx="6.2" ry="6.2"/>
<ellipse class="f" cx="1716.6" cy="2250.5" rx="6.2" ry="6.2"/>
<ellipse class="f" cx="1718.6" cy="2170.7" rx="6.2" ry="6.2"/>
<ellipse class="f" cx="1754.4" cy="2222.3" rx="6.2" ry="6.2"/>
<ellipse class="f" cx="1763.6" cy="2218.8" rx="6.2" ry="6.2"/>
<ellipse class="f" cx="1768.8" cy="2251.6" rx="6.2" ry="6.2"/>
<ellipse class="f" cx="1779.4" cy="2235.2" rx="6.2" ry="6.2"/>
<ellipse class="f" cx="1850" cy="1999" rx="6.2" ry="6.2"/>
<ellipse class="f" cx="1848.5" cy="2024.1" rx="6.2" ry="6.2"/>
<ellipse class="f" cx="1842.2" cy="2056.6" rx="6.2" ry="6.2"/>
<ellipse class="f" cx="1844.2" cy="2059" rx="6.2" ry="6.2"/>
<ellipse class="f" cx="1848" cy="2086.9" rx="6.2" ry="6.2"/>
<ellipse class="f" cx="1848" cy="2119.4" rx="6.2" ry="6.2"/>
<ellipse class="f" cx="1849.4" cy="2138.7" rx="6.2" ry="6.2"/>
<ellipse class="f" cx="1852.9" cy="2170.4" rx="6.2" ry="6.2"/>
<ellipse class="f" cx="1852" cy="2174.7" rx="6.2" ry="6.2"/>
<ellipse class="f" cx="1846.5" cy="2209.9" rx="6.2" ry="6.2"/>
</svg>
</body></html>
